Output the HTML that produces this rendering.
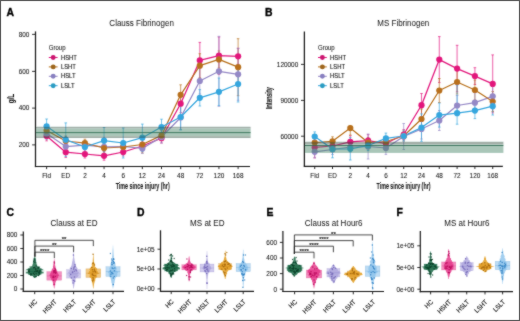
<!DOCTYPE html>
<html><head><meta charset="utf-8"><style>
html,body{margin:0;padding:0;background:#fff;}
body{width:520px;height:321px;overflow:hidden;}
svg{display:block;will-change:transform;}
text{stroke-width:0.12px;}
</style></head><body>
<svg xmlns="http://www.w3.org/2000/svg" width="520" height="321" viewBox="0 0 520 321" font-family="Liberation Sans, sans-serif">
<defs><filter id="bl" filterUnits="userSpaceOnUse" x="0" y="0" width="520" height="321"><feConvolveMatrix order="3" kernelMatrix="1 2 1 2 20 2 1 2 1" divisor="32" edgeMode="none"/></filter></defs>
<rect x="0" y="0" width="520" height="321" fill="#fff"/>
<g filter="url(#bl)">
<line x1="35.50" y1="31.40" x2="35.50" y2="167.10" stroke="#1a1a1a" stroke-width="1.2" />
<line x1="34.90" y1="166.50" x2="250.00" y2="166.50" stroke="#1a1a1a" stroke-width="1.2" />
<line x1="32.10" y1="34.40" x2="35.50" y2="34.40" stroke="#1a1a1a" stroke-width="0.9" />
<text x="0" y="0" font-size="6.92" text-anchor="end" font-weight="normal" fill="#141414" stroke="#141414" transform="translate(29.30,36.70) scale(0.925,1)" style="stroke-width:0.06px">800</text>
<line x1="32.10" y1="71.40" x2="35.50" y2="71.40" stroke="#1a1a1a" stroke-width="0.9" />
<text x="0" y="0" font-size="6.92" text-anchor="end" font-weight="normal" fill="#141414" stroke="#141414" transform="translate(29.30,73.70) scale(0.925,1)" style="stroke-width:0.06px">600</text>
<line x1="32.10" y1="108.10" x2="35.50" y2="108.10" stroke="#1a1a1a" stroke-width="0.9" />
<text x="0" y="0" font-size="6.92" text-anchor="end" font-weight="normal" fill="#141414" stroke="#141414" transform="translate(29.30,110.40) scale(0.925,1)" style="stroke-width:0.06px">400</text>
<line x1="32.10" y1="144.90" x2="35.50" y2="144.90" stroke="#1a1a1a" stroke-width="0.9" />
<text x="0" y="0" font-size="6.92" text-anchor="end" font-weight="normal" fill="#141414" stroke="#141414" transform="translate(29.30,147.20) scale(0.925,1)" style="stroke-width:0.06px">200</text>
<line x1="46.60" y1="166.50" x2="46.60" y2="169.10" stroke="#1a1a1a" stroke-width="0.9" />
<text x="0" y="0" font-size="6.92" text-anchor="middle" font-weight="normal" fill="#141414" stroke="#141414" transform="translate(46.60,177.90) scale(0.925,1)" style="stroke-width:0.06px">Fld</text>
<line x1="65.75" y1="166.50" x2="65.75" y2="169.10" stroke="#1a1a1a" stroke-width="0.9" />
<text x="0" y="0" font-size="6.92" text-anchor="middle" font-weight="normal" fill="#141414" stroke="#141414" transform="translate(65.75,177.90) scale(0.925,1)" style="stroke-width:0.06px">ED</text>
<line x1="84.90" y1="166.50" x2="84.90" y2="169.10" stroke="#1a1a1a" stroke-width="0.9" />
<text x="0" y="0" font-size="6.92" text-anchor="middle" font-weight="normal" fill="#141414" stroke="#141414" transform="translate(84.90,177.90) scale(0.925,1)" style="stroke-width:0.06px">2</text>
<line x1="104.05" y1="166.50" x2="104.05" y2="169.10" stroke="#1a1a1a" stroke-width="0.9" />
<text x="0" y="0" font-size="6.92" text-anchor="middle" font-weight="normal" fill="#141414" stroke="#141414" transform="translate(104.05,177.90) scale(0.925,1)" style="stroke-width:0.06px">4</text>
<line x1="123.20" y1="166.50" x2="123.20" y2="169.10" stroke="#1a1a1a" stroke-width="0.9" />
<text x="0" y="0" font-size="6.92" text-anchor="middle" font-weight="normal" fill="#141414" stroke="#141414" transform="translate(123.20,177.90) scale(0.925,1)" style="stroke-width:0.06px">6</text>
<line x1="142.35" y1="166.50" x2="142.35" y2="169.10" stroke="#1a1a1a" stroke-width="0.9" />
<text x="0" y="0" font-size="6.92" text-anchor="middle" font-weight="normal" fill="#141414" stroke="#141414" transform="translate(142.35,177.90) scale(0.925,1)" style="stroke-width:0.06px">12</text>
<line x1="161.50" y1="166.50" x2="161.50" y2="169.10" stroke="#1a1a1a" stroke-width="0.9" />
<text x="0" y="0" font-size="6.92" text-anchor="middle" font-weight="normal" fill="#141414" stroke="#141414" transform="translate(161.50,177.90) scale(0.925,1)" style="stroke-width:0.06px">24</text>
<line x1="180.65" y1="166.50" x2="180.65" y2="169.10" stroke="#1a1a1a" stroke-width="0.9" />
<text x="0" y="0" font-size="6.92" text-anchor="middle" font-weight="normal" fill="#141414" stroke="#141414" transform="translate(180.65,177.90) scale(0.925,1)" style="stroke-width:0.06px">48</text>
<line x1="199.80" y1="166.50" x2="199.80" y2="169.10" stroke="#1a1a1a" stroke-width="0.9" />
<text x="0" y="0" font-size="6.92" text-anchor="middle" font-weight="normal" fill="#141414" stroke="#141414" transform="translate(199.80,177.90) scale(0.925,1)" style="stroke-width:0.06px">72</text>
<line x1="218.95" y1="166.50" x2="218.95" y2="169.10" stroke="#1a1a1a" stroke-width="0.9" />
<text x="0" y="0" font-size="6.92" text-anchor="middle" font-weight="normal" fill="#141414" stroke="#141414" transform="translate(218.95,177.90) scale(0.925,1)" style="stroke-width:0.06px">120</text>
<line x1="238.10" y1="166.50" x2="238.10" y2="169.10" stroke="#1a1a1a" stroke-width="0.9" />
<text x="0" y="0" font-size="6.92" text-anchor="middle" font-weight="normal" fill="#141414" stroke="#141414" transform="translate(238.10,177.90) scale(0.925,1)" style="stroke-width:0.06px">168</text>
<text x="0" y="0" font-size="8.8" text-anchor="middle" font-weight="bold" fill="#1a1a1a" stroke="#1a1a1a" transform="translate(142.70,189.20) scale(0.61,1)" style="stroke-width:0.1px">Time since injury (hr)</text>
<text x="0" y="0" font-size="8.8" text-anchor="middle" font-weight="bold" fill="#1a1a1a" stroke="#1a1a1a" transform="translate(13.60,98.50) rotate(-90) scale(0.71,1)" style="stroke-width:0.08px">g/L</text>
<text x="0" y="0" font-size="8.65" text-anchor="middle" font-weight="normal" fill="#1e1e1e" stroke="#1e1e1e" transform="translate(141.60,26.00) scale(0.925,1)" style="stroke-width:0.04px">Clauss Fibrinogen</text>
<text x="0" y="0" font-size="10.40" text-anchor="start" font-weight="bold" fill="#000" stroke="#000" transform="translate(6.60,15.70) scale(1,1)" style="stroke-width:0.35px">A</text>
<line x1="46.60" y1="131.20" x2="46.60" y2="140.80" stroke="#E2157C" stroke-width="0.8" stroke-opacity="0.85"/>
<line x1="45.30" y1="131.20" x2="47.90" y2="131.20" stroke="#E2157C" stroke-width="0.8" stroke-opacity="0.85"/>
<line x1="45.30" y1="140.80" x2="47.90" y2="140.80" stroke="#E2157C" stroke-width="0.8" stroke-opacity="0.85"/>
<line x1="65.75" y1="146.90" x2="65.75" y2="157.50" stroke="#E2157C" stroke-width="0.8" stroke-opacity="0.85"/>
<line x1="64.45" y1="146.90" x2="67.05" y2="146.90" stroke="#E2157C" stroke-width="0.8" stroke-opacity="0.85"/>
<line x1="64.45" y1="157.50" x2="67.05" y2="157.50" stroke="#E2157C" stroke-width="0.8" stroke-opacity="0.85"/>
<line x1="84.90" y1="150.00" x2="84.90" y2="158.00" stroke="#E2157C" stroke-width="0.8" stroke-opacity="0.85"/>
<line x1="83.60" y1="150.00" x2="86.20" y2="150.00" stroke="#E2157C" stroke-width="0.8" stroke-opacity="0.85"/>
<line x1="83.60" y1="158.00" x2="86.20" y2="158.00" stroke="#E2157C" stroke-width="0.8" stroke-opacity="0.85"/>
<line x1="104.05" y1="151.40" x2="104.05" y2="160.20" stroke="#E2157C" stroke-width="0.8" stroke-opacity="0.85"/>
<line x1="102.75" y1="151.40" x2="105.35" y2="151.40" stroke="#E2157C" stroke-width="0.8" stroke-opacity="0.85"/>
<line x1="102.75" y1="160.20" x2="105.35" y2="160.20" stroke="#E2157C" stroke-width="0.8" stroke-opacity="0.85"/>
<line x1="123.20" y1="148.00" x2="123.20" y2="156.00" stroke="#E2157C" stroke-width="0.8" stroke-opacity="0.85"/>
<line x1="121.90" y1="148.00" x2="124.50" y2="148.00" stroke="#E2157C" stroke-width="0.8" stroke-opacity="0.85"/>
<line x1="121.90" y1="156.00" x2="124.50" y2="156.00" stroke="#E2157C" stroke-width="0.8" stroke-opacity="0.85"/>
<line x1="142.35" y1="142.00" x2="142.35" y2="150.00" stroke="#E2157C" stroke-width="0.8" stroke-opacity="0.85"/>
<line x1="141.05" y1="142.00" x2="143.65" y2="142.00" stroke="#E2157C" stroke-width="0.8" stroke-opacity="0.85"/>
<line x1="141.05" y1="150.00" x2="143.65" y2="150.00" stroke="#E2157C" stroke-width="0.8" stroke-opacity="0.85"/>
<line x1="161.50" y1="133.40" x2="161.50" y2="143.00" stroke="#E2157C" stroke-width="0.8" stroke-opacity="0.85"/>
<line x1="160.20" y1="133.40" x2="162.80" y2="133.40" stroke="#E2157C" stroke-width="0.8" stroke-opacity="0.85"/>
<line x1="160.20" y1="143.00" x2="162.80" y2="143.00" stroke="#E2157C" stroke-width="0.8" stroke-opacity="0.85"/>
<line x1="180.65" y1="94.70" x2="180.65" y2="112.70" stroke="#E2157C" stroke-width="0.8" stroke-opacity="0.85"/>
<line x1="179.35" y1="94.70" x2="181.95" y2="94.70" stroke="#E2157C" stroke-width="0.8" stroke-opacity="0.85"/>
<line x1="179.35" y1="112.70" x2="181.95" y2="112.70" stroke="#E2157C" stroke-width="0.8" stroke-opacity="0.85"/>
<line x1="199.80" y1="42.40" x2="199.80" y2="78.40" stroke="#E2157C" stroke-width="0.8" stroke-opacity="0.85"/>
<line x1="198.50" y1="42.40" x2="201.10" y2="42.40" stroke="#E2157C" stroke-width="0.8" stroke-opacity="0.85"/>
<line x1="198.50" y1="78.40" x2="201.10" y2="78.40" stroke="#E2157C" stroke-width="0.8" stroke-opacity="0.85"/>
<line x1="218.95" y1="37.00" x2="218.95" y2="74.40" stroke="#E2157C" stroke-width="0.8" stroke-opacity="0.85"/>
<line x1="217.65" y1="37.00" x2="220.25" y2="37.00" stroke="#E2157C" stroke-width="0.8" stroke-opacity="0.85"/>
<line x1="217.65" y1="74.40" x2="220.25" y2="74.40" stroke="#E2157C" stroke-width="0.8" stroke-opacity="0.85"/>
<line x1="238.10" y1="48.30" x2="238.10" y2="64.30" stroke="#E2157C" stroke-width="0.8" stroke-opacity="0.85"/>
<line x1="236.80" y1="48.30" x2="239.40" y2="48.30" stroke="#E2157C" stroke-width="0.8" stroke-opacity="0.85"/>
<line x1="236.80" y1="64.30" x2="239.40" y2="64.30" stroke="#E2157C" stroke-width="0.8" stroke-opacity="0.85"/>
<line x1="46.60" y1="124.50" x2="46.60" y2="136.50" stroke="#B8701C" stroke-width="0.8" stroke-opacity="0.85"/>
<line x1="45.30" y1="124.50" x2="47.90" y2="124.50" stroke="#B8701C" stroke-width="0.8" stroke-opacity="0.85"/>
<line x1="45.30" y1="136.50" x2="47.90" y2="136.50" stroke="#B8701C" stroke-width="0.8" stroke-opacity="0.85"/>
<line x1="65.75" y1="136.00" x2="65.75" y2="146.00" stroke="#B8701C" stroke-width="0.8" stroke-opacity="0.85"/>
<line x1="64.45" y1="136.00" x2="67.05" y2="136.00" stroke="#B8701C" stroke-width="0.8" stroke-opacity="0.85"/>
<line x1="64.45" y1="146.00" x2="67.05" y2="146.00" stroke="#B8701C" stroke-width="0.8" stroke-opacity="0.85"/>
<line x1="84.90" y1="139.20" x2="84.90" y2="147.20" stroke="#B8701C" stroke-width="0.8" stroke-opacity="0.85"/>
<line x1="83.60" y1="139.20" x2="86.20" y2="139.20" stroke="#B8701C" stroke-width="0.8" stroke-opacity="0.85"/>
<line x1="83.60" y1="147.20" x2="86.20" y2="147.20" stroke="#B8701C" stroke-width="0.8" stroke-opacity="0.85"/>
<line x1="104.05" y1="144.00" x2="104.05" y2="152.00" stroke="#B8701C" stroke-width="0.8" stroke-opacity="0.85"/>
<line x1="102.75" y1="144.00" x2="105.35" y2="144.00" stroke="#B8701C" stroke-width="0.8" stroke-opacity="0.85"/>
<line x1="102.75" y1="152.00" x2="105.35" y2="152.00" stroke="#B8701C" stroke-width="0.8" stroke-opacity="0.85"/>
<line x1="123.20" y1="143.00" x2="123.20" y2="151.00" stroke="#B8701C" stroke-width="0.8" stroke-opacity="0.85"/>
<line x1="121.90" y1="143.00" x2="124.50" y2="143.00" stroke="#B8701C" stroke-width="0.8" stroke-opacity="0.85"/>
<line x1="121.90" y1="151.00" x2="124.50" y2="151.00" stroke="#B8701C" stroke-width="0.8" stroke-opacity="0.85"/>
<line x1="142.35" y1="136.10" x2="142.35" y2="152.90" stroke="#B8701C" stroke-width="0.8" stroke-opacity="0.85"/>
<line x1="141.05" y1="136.10" x2="143.65" y2="136.10" stroke="#B8701C" stroke-width="0.8" stroke-opacity="0.85"/>
<line x1="141.05" y1="152.90" x2="143.65" y2="152.90" stroke="#B8701C" stroke-width="0.8" stroke-opacity="0.85"/>
<line x1="161.50" y1="130.40" x2="161.50" y2="140.40" stroke="#B8701C" stroke-width="0.8" stroke-opacity="0.85"/>
<line x1="160.20" y1="130.40" x2="162.80" y2="130.40" stroke="#B8701C" stroke-width="0.8" stroke-opacity="0.85"/>
<line x1="160.20" y1="140.40" x2="162.80" y2="140.40" stroke="#B8701C" stroke-width="0.8" stroke-opacity="0.85"/>
<line x1="180.65" y1="84.80" x2="180.65" y2="104.80" stroke="#B8701C" stroke-width="0.8" stroke-opacity="0.85"/>
<line x1="179.35" y1="84.80" x2="181.95" y2="84.80" stroke="#B8701C" stroke-width="0.8" stroke-opacity="0.85"/>
<line x1="179.35" y1="104.80" x2="181.95" y2="104.80" stroke="#B8701C" stroke-width="0.8" stroke-opacity="0.85"/>
<line x1="199.80" y1="53.70" x2="199.80" y2="77.70" stroke="#B8701C" stroke-width="0.8" stroke-opacity="0.85"/>
<line x1="198.50" y1="53.70" x2="201.10" y2="53.70" stroke="#B8701C" stroke-width="0.8" stroke-opacity="0.85"/>
<line x1="198.50" y1="77.70" x2="201.10" y2="77.70" stroke="#B8701C" stroke-width="0.8" stroke-opacity="0.85"/>
<line x1="218.95" y1="50.90" x2="218.95" y2="67.90" stroke="#B8701C" stroke-width="0.8" stroke-opacity="0.85"/>
<line x1="217.65" y1="50.90" x2="220.25" y2="50.90" stroke="#B8701C" stroke-width="0.8" stroke-opacity="0.85"/>
<line x1="217.65" y1="67.90" x2="220.25" y2="67.90" stroke="#B8701C" stroke-width="0.8" stroke-opacity="0.85"/>
<line x1="238.10" y1="38.70" x2="238.10" y2="95.70" stroke="#B8701C" stroke-width="0.8" stroke-opacity="0.85"/>
<line x1="236.80" y1="38.70" x2="239.40" y2="38.70" stroke="#B8701C" stroke-width="0.8" stroke-opacity="0.85"/>
<line x1="236.80" y1="95.70" x2="239.40" y2="95.70" stroke="#B8701C" stroke-width="0.8" stroke-opacity="0.85"/>
<line x1="46.60" y1="127.50" x2="46.60" y2="139.50" stroke="#9488C6" stroke-width="0.8" stroke-opacity="0.85"/>
<line x1="45.30" y1="127.50" x2="47.90" y2="127.50" stroke="#9488C6" stroke-width="0.8" stroke-opacity="0.85"/>
<line x1="45.30" y1="139.50" x2="47.90" y2="139.50" stroke="#9488C6" stroke-width="0.8" stroke-opacity="0.85"/>
<line x1="65.75" y1="141.60" x2="65.75" y2="151.60" stroke="#9488C6" stroke-width="0.8" stroke-opacity="0.85"/>
<line x1="64.45" y1="141.60" x2="67.05" y2="141.60" stroke="#9488C6" stroke-width="0.8" stroke-opacity="0.85"/>
<line x1="64.45" y1="151.60" x2="67.05" y2="151.60" stroke="#9488C6" stroke-width="0.8" stroke-opacity="0.85"/>
<line x1="84.90" y1="141.20" x2="84.90" y2="149.20" stroke="#9488C6" stroke-width="0.8" stroke-opacity="0.85"/>
<line x1="83.60" y1="141.20" x2="86.20" y2="141.20" stroke="#9488C6" stroke-width="0.8" stroke-opacity="0.85"/>
<line x1="83.60" y1="149.20" x2="86.20" y2="149.20" stroke="#9488C6" stroke-width="0.8" stroke-opacity="0.85"/>
<line x1="104.05" y1="142.80" x2="104.05" y2="150.80" stroke="#9488C6" stroke-width="0.8" stroke-opacity="0.85"/>
<line x1="102.75" y1="142.80" x2="105.35" y2="142.80" stroke="#9488C6" stroke-width="0.8" stroke-opacity="0.85"/>
<line x1="102.75" y1="150.80" x2="105.35" y2="150.80" stroke="#9488C6" stroke-width="0.8" stroke-opacity="0.85"/>
<line x1="123.20" y1="142.50" x2="123.20" y2="150.50" stroke="#9488C6" stroke-width="0.8" stroke-opacity="0.85"/>
<line x1="121.90" y1="142.50" x2="124.50" y2="142.50" stroke="#9488C6" stroke-width="0.8" stroke-opacity="0.85"/>
<line x1="121.90" y1="150.50" x2="124.50" y2="150.50" stroke="#9488C6" stroke-width="0.8" stroke-opacity="0.85"/>
<line x1="142.35" y1="143.40" x2="142.35" y2="153.40" stroke="#9488C6" stroke-width="0.8" stroke-opacity="0.85"/>
<line x1="141.05" y1="143.40" x2="143.65" y2="143.40" stroke="#9488C6" stroke-width="0.8" stroke-opacity="0.85"/>
<line x1="141.05" y1="153.40" x2="143.65" y2="153.40" stroke="#9488C6" stroke-width="0.8" stroke-opacity="0.85"/>
<line x1="161.50" y1="131.00" x2="161.50" y2="143.00" stroke="#9488C6" stroke-width="0.8" stroke-opacity="0.85"/>
<line x1="160.20" y1="131.00" x2="162.80" y2="131.00" stroke="#9488C6" stroke-width="0.8" stroke-opacity="0.85"/>
<line x1="160.20" y1="143.00" x2="162.80" y2="143.00" stroke="#9488C6" stroke-width="0.8" stroke-opacity="0.85"/>
<line x1="180.65" y1="105.50" x2="180.65" y2="129.50" stroke="#9488C6" stroke-width="0.8" stroke-opacity="0.85"/>
<line x1="179.35" y1="105.50" x2="181.95" y2="105.50" stroke="#9488C6" stroke-width="0.8" stroke-opacity="0.85"/>
<line x1="179.35" y1="129.50" x2="181.95" y2="129.50" stroke="#9488C6" stroke-width="0.8" stroke-opacity="0.85"/>
<line x1="199.80" y1="68.00" x2="199.80" y2="94.00" stroke="#9488C6" stroke-width="0.8" stroke-opacity="0.85"/>
<line x1="198.50" y1="68.00" x2="201.10" y2="68.00" stroke="#9488C6" stroke-width="0.8" stroke-opacity="0.85"/>
<line x1="198.50" y1="94.00" x2="201.10" y2="94.00" stroke="#9488C6" stroke-width="0.8" stroke-opacity="0.85"/>
<line x1="218.95" y1="36.30" x2="218.95" y2="106.30" stroke="#9488C6" stroke-width="0.8" stroke-opacity="0.85"/>
<line x1="217.65" y1="36.30" x2="220.25" y2="36.30" stroke="#9488C6" stroke-width="0.8" stroke-opacity="0.85"/>
<line x1="217.65" y1="106.30" x2="220.25" y2="106.30" stroke="#9488C6" stroke-width="0.8" stroke-opacity="0.85"/>
<line x1="238.10" y1="48.30" x2="238.10" y2="100.30" stroke="#9488C6" stroke-width="0.8" stroke-opacity="0.85"/>
<line x1="236.80" y1="48.30" x2="239.40" y2="48.30" stroke="#9488C6" stroke-width="0.8" stroke-opacity="0.85"/>
<line x1="236.80" y1="100.30" x2="239.40" y2="100.30" stroke="#9488C6" stroke-width="0.8" stroke-opacity="0.85"/>
<line x1="46.60" y1="119.00" x2="46.60" y2="133.60" stroke="#35A6DE" stroke-width="0.8" stroke-opacity="0.85"/>
<line x1="45.30" y1="119.00" x2="47.90" y2="119.00" stroke="#35A6DE" stroke-width="0.8" stroke-opacity="0.85"/>
<line x1="45.30" y1="133.60" x2="47.90" y2="133.60" stroke="#35A6DE" stroke-width="0.8" stroke-opacity="0.85"/>
<line x1="65.75" y1="122.90" x2="65.75" y2="156.50" stroke="#35A6DE" stroke-width="0.8" stroke-opacity="0.85"/>
<line x1="64.45" y1="122.90" x2="67.05" y2="122.90" stroke="#35A6DE" stroke-width="0.8" stroke-opacity="0.85"/>
<line x1="64.45" y1="156.50" x2="67.05" y2="156.50" stroke="#35A6DE" stroke-width="0.8" stroke-opacity="0.85"/>
<line x1="84.90" y1="141.00" x2="84.90" y2="153.00" stroke="#35A6DE" stroke-width="0.8" stroke-opacity="0.85"/>
<line x1="83.60" y1="141.00" x2="86.20" y2="141.00" stroke="#35A6DE" stroke-width="0.8" stroke-opacity="0.85"/>
<line x1="83.60" y1="153.00" x2="86.20" y2="153.00" stroke="#35A6DE" stroke-width="0.8" stroke-opacity="0.85"/>
<line x1="104.05" y1="127.50" x2="104.05" y2="153.90" stroke="#35A6DE" stroke-width="0.8" stroke-opacity="0.85"/>
<line x1="102.75" y1="127.50" x2="105.35" y2="127.50" stroke="#35A6DE" stroke-width="0.8" stroke-opacity="0.85"/>
<line x1="102.75" y1="153.90" x2="105.35" y2="153.90" stroke="#35A6DE" stroke-width="0.8" stroke-opacity="0.85"/>
<line x1="123.20" y1="128.00" x2="123.20" y2="158.00" stroke="#35A6DE" stroke-width="0.8" stroke-opacity="0.85"/>
<line x1="121.90" y1="128.00" x2="124.50" y2="128.00" stroke="#35A6DE" stroke-width="0.8" stroke-opacity="0.85"/>
<line x1="121.90" y1="158.00" x2="124.50" y2="158.00" stroke="#35A6DE" stroke-width="0.8" stroke-opacity="0.85"/>
<line x1="142.35" y1="124.10" x2="142.35" y2="151.30" stroke="#35A6DE" stroke-width="0.8" stroke-opacity="0.85"/>
<line x1="141.05" y1="124.10" x2="143.65" y2="124.10" stroke="#35A6DE" stroke-width="0.8" stroke-opacity="0.85"/>
<line x1="141.05" y1="151.30" x2="143.65" y2="151.30" stroke="#35A6DE" stroke-width="0.8" stroke-opacity="0.85"/>
<line x1="161.50" y1="119.20" x2="161.50" y2="134.80" stroke="#35A6DE" stroke-width="0.8" stroke-opacity="0.85"/>
<line x1="160.20" y1="119.20" x2="162.80" y2="119.20" stroke="#35A6DE" stroke-width="0.8" stroke-opacity="0.85"/>
<line x1="160.20" y1="134.80" x2="162.80" y2="134.80" stroke="#35A6DE" stroke-width="0.8" stroke-opacity="0.85"/>
<line x1="180.65" y1="104.00" x2="180.65" y2="130.00" stroke="#35A6DE" stroke-width="0.8" stroke-opacity="0.85"/>
<line x1="179.35" y1="104.00" x2="181.95" y2="104.00" stroke="#35A6DE" stroke-width="0.8" stroke-opacity="0.85"/>
<line x1="179.35" y1="130.00" x2="181.95" y2="130.00" stroke="#35A6DE" stroke-width="0.8" stroke-opacity="0.85"/>
<line x1="199.80" y1="89.60" x2="199.80" y2="106.00" stroke="#35A6DE" stroke-width="0.8" stroke-opacity="0.85"/>
<line x1="198.50" y1="89.60" x2="201.10" y2="89.60" stroke="#35A6DE" stroke-width="0.8" stroke-opacity="0.85"/>
<line x1="198.50" y1="106.00" x2="201.10" y2="106.00" stroke="#35A6DE" stroke-width="0.8" stroke-opacity="0.85"/>
<line x1="218.95" y1="78.00" x2="218.95" y2="105.60" stroke="#35A6DE" stroke-width="0.8" stroke-opacity="0.85"/>
<line x1="217.65" y1="78.00" x2="220.25" y2="78.00" stroke="#35A6DE" stroke-width="0.8" stroke-opacity="0.85"/>
<line x1="217.65" y1="105.60" x2="220.25" y2="105.60" stroke="#35A6DE" stroke-width="0.8" stroke-opacity="0.85"/>
<line x1="238.10" y1="66.00" x2="238.10" y2="102.00" stroke="#35A6DE" stroke-width="0.8" stroke-opacity="0.85"/>
<line x1="236.80" y1="66.00" x2="239.40" y2="66.00" stroke="#35A6DE" stroke-width="0.8" stroke-opacity="0.85"/>
<line x1="236.80" y1="102.00" x2="239.40" y2="102.00" stroke="#35A6DE" stroke-width="0.8" stroke-opacity="0.85"/>
<polyline points="46.60,136.00 65.75,152.20 84.90,154.00 104.05,155.80 123.20,152.00 142.35,146.00 161.50,138.20 180.65,103.70 199.80,60.40 218.95,55.70 238.10,56.30" fill="none" stroke="#E2157C" stroke-width="1.25" stroke-linejoin="round"/>
<polyline points="46.60,133.50 65.75,146.60 84.90,145.20 104.05,146.80 123.20,146.50 142.35,148.40 161.50,137.00 180.65,117.50 199.80,81.00 218.95,71.30 238.10,74.30" fill="none" stroke="#9488C6" stroke-width="1.25" stroke-linejoin="round"/>
<polyline points="46.60,130.50 65.75,141.00 84.90,143.20 104.05,148.00 123.20,147.00 142.35,144.50 161.50,135.40 180.65,94.80 199.80,65.70 218.95,59.40 238.10,67.20" fill="none" stroke="#B8701C" stroke-width="1.25" stroke-linejoin="round"/>
<polyline points="46.60,126.30 65.75,139.70 84.90,147.00 104.05,140.70 123.20,143.00 142.35,137.70 161.50,127.00 180.65,117.00 199.80,97.80 218.95,91.80 238.10,84.00" fill="none" stroke="#35A6DE" stroke-width="1.25" stroke-linejoin="round"/>
<circle cx="46.60" cy="136.00" r="3.1" fill="#E2157C"/>
<circle cx="65.75" cy="152.20" r="3.1" fill="#E2157C"/>
<circle cx="84.90" cy="154.00" r="3.1" fill="#E2157C"/>
<circle cx="104.05" cy="155.80" r="3.1" fill="#E2157C"/>
<circle cx="123.20" cy="152.00" r="3.1" fill="#E2157C"/>
<circle cx="142.35" cy="146.00" r="3.1" fill="#E2157C"/>
<circle cx="161.50" cy="138.20" r="3.1" fill="#E2157C"/>
<circle cx="180.65" cy="103.70" r="3.1" fill="#E2157C"/>
<circle cx="199.80" cy="60.40" r="3.1" fill="#E2157C"/>
<circle cx="218.95" cy="55.70" r="3.1" fill="#E2157C"/>
<circle cx="238.10" cy="56.30" r="3.1" fill="#E2157C"/>
<circle cx="46.60" cy="133.50" r="3.1" fill="#9488C6"/>
<circle cx="65.75" cy="146.60" r="3.1" fill="#9488C6"/>
<circle cx="84.90" cy="145.20" r="3.1" fill="#9488C6"/>
<circle cx="104.05" cy="146.80" r="3.1" fill="#9488C6"/>
<circle cx="123.20" cy="146.50" r="3.1" fill="#9488C6"/>
<circle cx="142.35" cy="148.40" r="3.1" fill="#9488C6"/>
<circle cx="161.50" cy="137.00" r="3.1" fill="#9488C6"/>
<circle cx="180.65" cy="117.50" r="3.1" fill="#9488C6"/>
<circle cx="199.80" cy="81.00" r="3.1" fill="#9488C6"/>
<circle cx="218.95" cy="71.30" r="3.1" fill="#9488C6"/>
<circle cx="238.10" cy="74.30" r="3.1" fill="#9488C6"/>
<circle cx="46.60" cy="130.50" r="3.1" fill="#B8701C"/>
<circle cx="65.75" cy="141.00" r="3.1" fill="#B8701C"/>
<circle cx="84.90" cy="143.20" r="3.1" fill="#B8701C"/>
<circle cx="104.05" cy="148.00" r="3.1" fill="#B8701C"/>
<circle cx="123.20" cy="147.00" r="3.1" fill="#B8701C"/>
<circle cx="142.35" cy="144.50" r="3.1" fill="#B8701C"/>
<circle cx="161.50" cy="135.40" r="3.1" fill="#B8701C"/>
<circle cx="180.65" cy="94.80" r="3.1" fill="#B8701C"/>
<circle cx="199.80" cy="65.70" r="3.1" fill="#B8701C"/>
<circle cx="218.95" cy="59.40" r="3.1" fill="#B8701C"/>
<circle cx="238.10" cy="67.20" r="3.1" fill="#B8701C"/>
<circle cx="46.60" cy="126.30" r="3.1" fill="#35A6DE"/>
<circle cx="65.75" cy="139.70" r="3.1" fill="#35A6DE"/>
<circle cx="84.90" cy="147.00" r="3.1" fill="#35A6DE"/>
<circle cx="104.05" cy="140.70" r="3.1" fill="#35A6DE"/>
<circle cx="123.20" cy="143.00" r="3.1" fill="#35A6DE"/>
<circle cx="142.35" cy="137.70" r="3.1" fill="#35A6DE"/>
<circle cx="161.50" cy="127.00" r="3.1" fill="#35A6DE"/>
<circle cx="180.65" cy="117.00" r="3.1" fill="#35A6DE"/>
<circle cx="199.80" cy="97.80" r="3.1" fill="#35A6DE"/>
<circle cx="218.95" cy="91.80" r="3.1" fill="#35A6DE"/>
<circle cx="238.10" cy="84.00" r="3.1" fill="#35A6DE"/>
<g opacity="0.45">
<rect x="36.10" y="126.80" width="214.50" height="1.80" fill="#2C4A3B"/>
<rect x="36.10" y="128.60" width="214.50" height="7.60" fill="#3F8262"/>
<rect x="36.10" y="136.20" width="214.50" height="1.80" fill="#2C4A3B"/>
</g>
<line x1="36.10" y1="132.60" x2="250.60" y2="132.60" stroke="#25684D" stroke-width="1.0" stroke-opacity="0.8"/>
<text x="0" y="0" font-size="6.49" text-anchor="start" font-weight="normal" fill="#303030" stroke="#303030" transform="translate(48.80,49.90) scale(0.925,1)" >Group</text>
<line x1="48.80" y1="57.50" x2="57.60" y2="57.50" stroke="#E2157C" stroke-width="1.0" />
<circle cx="53.20" cy="57.50" r="2.45" fill="#CC1470"/>
<text x="0" y="0" font-size="6.38" text-anchor="start" font-weight="normal" fill="#1a1a1a" stroke="#1a1a1a" transform="translate(60.90,59.60) scale(0.925,1)" >HSHT</text>
<line x1="48.80" y1="66.90" x2="57.60" y2="66.90" stroke="#B8701C" stroke-width="1.0" />
<circle cx="53.20" cy="66.90" r="2.45" fill="#9E661C"/>
<text x="0" y="0" font-size="6.38" text-anchor="start" font-weight="normal" fill="#1a1a1a" stroke="#1a1a1a" transform="translate(60.90,69.00) scale(0.925,1)" >LSHT</text>
<line x1="48.80" y1="76.30" x2="57.60" y2="76.30" stroke="#9488C6" stroke-width="1.0" />
<circle cx="53.20" cy="76.30" r="2.45" fill="#8880C0"/>
<text x="0" y="0" font-size="6.38" text-anchor="start" font-weight="normal" fill="#1a1a1a" stroke="#1a1a1a" transform="translate(60.90,78.40) scale(0.925,1)" >HSLT</text>
<line x1="48.80" y1="85.70" x2="57.60" y2="85.70" stroke="#35A6DE" stroke-width="1.0" />
<circle cx="53.20" cy="85.70" r="2.45" fill="#2A9CC2"/>
<text x="0" y="0" font-size="6.38" text-anchor="start" font-weight="normal" fill="#1a1a1a" stroke="#1a1a1a" transform="translate(60.90,87.80) scale(0.925,1)" >LSLT</text>
<line x1="304.40" y1="31.40" x2="304.40" y2="167.00" stroke="#1a1a1a" stroke-width="1.2" />
<line x1="303.80" y1="166.40" x2="502.80" y2="166.40" stroke="#1a1a1a" stroke-width="1.2" />
<line x1="301.00" y1="64.40" x2="304.40" y2="64.40" stroke="#1a1a1a" stroke-width="0.9" />
<text x="0" y="0" font-size="6.92" text-anchor="end" font-weight="normal" fill="#141414" stroke="#141414" transform="translate(298.20,66.70) scale(0.925,1)" style="stroke-width:0.06px">120000</text>
<line x1="301.00" y1="100.40" x2="304.40" y2="100.40" stroke="#1a1a1a" stroke-width="0.9" />
<text x="0" y="0" font-size="6.92" text-anchor="end" font-weight="normal" fill="#141414" stroke="#141414" transform="translate(298.20,102.70) scale(0.925,1)" style="stroke-width:0.06px">90000</text>
<line x1="301.00" y1="136.20" x2="304.40" y2="136.20" stroke="#1a1a1a" stroke-width="0.9" />
<text x="0" y="0" font-size="6.92" text-anchor="end" font-weight="normal" fill="#141414" stroke="#141414" transform="translate(298.20,138.50) scale(0.925,1)" style="stroke-width:0.06px">60000</text>
<line x1="314.70" y1="166.40" x2="314.70" y2="169.00" stroke="#1a1a1a" stroke-width="0.9" />
<text x="0" y="0" font-size="6.92" text-anchor="middle" font-weight="normal" fill="#141414" stroke="#141414" transform="translate(314.70,177.80) scale(0.925,1)" style="stroke-width:0.06px">Fld</text>
<line x1="332.50" y1="166.40" x2="332.50" y2="169.00" stroke="#1a1a1a" stroke-width="0.9" />
<text x="0" y="0" font-size="6.92" text-anchor="middle" font-weight="normal" fill="#141414" stroke="#141414" transform="translate(332.50,177.80) scale(0.925,1)" style="stroke-width:0.06px">ED</text>
<line x1="350.30" y1="166.40" x2="350.30" y2="169.00" stroke="#1a1a1a" stroke-width="0.9" />
<text x="0" y="0" font-size="6.92" text-anchor="middle" font-weight="normal" fill="#141414" stroke="#141414" transform="translate(350.30,177.80) scale(0.925,1)" style="stroke-width:0.06px">2</text>
<line x1="368.10" y1="166.40" x2="368.10" y2="169.00" stroke="#1a1a1a" stroke-width="0.9" />
<text x="0" y="0" font-size="6.92" text-anchor="middle" font-weight="normal" fill="#141414" stroke="#141414" transform="translate(368.10,177.80) scale(0.925,1)" style="stroke-width:0.06px">4</text>
<line x1="385.90" y1="166.40" x2="385.90" y2="169.00" stroke="#1a1a1a" stroke-width="0.9" />
<text x="0" y="0" font-size="6.92" text-anchor="middle" font-weight="normal" fill="#141414" stroke="#141414" transform="translate(385.90,177.80) scale(0.925,1)" style="stroke-width:0.06px">6</text>
<line x1="403.70" y1="166.40" x2="403.70" y2="169.00" stroke="#1a1a1a" stroke-width="0.9" />
<text x="0" y="0" font-size="6.92" text-anchor="middle" font-weight="normal" fill="#141414" stroke="#141414" transform="translate(403.70,177.80) scale(0.925,1)" style="stroke-width:0.06px">12</text>
<line x1="421.50" y1="166.40" x2="421.50" y2="169.00" stroke="#1a1a1a" stroke-width="0.9" />
<text x="0" y="0" font-size="6.92" text-anchor="middle" font-weight="normal" fill="#141414" stroke="#141414" transform="translate(421.50,177.80) scale(0.925,1)" style="stroke-width:0.06px">24</text>
<line x1="439.30" y1="166.40" x2="439.30" y2="169.00" stroke="#1a1a1a" stroke-width="0.9" />
<text x="0" y="0" font-size="6.92" text-anchor="middle" font-weight="normal" fill="#141414" stroke="#141414" transform="translate(439.30,177.80) scale(0.925,1)" style="stroke-width:0.06px">48</text>
<line x1="457.10" y1="166.40" x2="457.10" y2="169.00" stroke="#1a1a1a" stroke-width="0.9" />
<text x="0" y="0" font-size="6.92" text-anchor="middle" font-weight="normal" fill="#141414" stroke="#141414" transform="translate(457.10,177.80) scale(0.925,1)" style="stroke-width:0.06px">72</text>
<line x1="474.90" y1="166.40" x2="474.90" y2="169.00" stroke="#1a1a1a" stroke-width="0.9" />
<text x="0" y="0" font-size="6.92" text-anchor="middle" font-weight="normal" fill="#141414" stroke="#141414" transform="translate(474.90,177.80) scale(0.925,1)" style="stroke-width:0.06px">120</text>
<line x1="492.70" y1="166.40" x2="492.70" y2="169.00" stroke="#1a1a1a" stroke-width="0.9" />
<text x="0" y="0" font-size="6.92" text-anchor="middle" font-weight="normal" fill="#141414" stroke="#141414" transform="translate(492.70,177.80) scale(0.925,1)" style="stroke-width:0.06px">168</text>
<text x="0" y="0" font-size="8.8" text-anchor="middle" font-weight="bold" fill="#1a1a1a" stroke="#1a1a1a" transform="translate(403.50,189.10) scale(0.61,1)" style="stroke-width:0.1px">Time since injury (hr)</text>
<text x="0" y="0" font-size="8.8" text-anchor="middle" font-weight="bold" fill="#1a1a1a" stroke="#1a1a1a" transform="translate(271.60,98.20) rotate(-90) scale(0.598,1)" style="stroke-width:0.08px">Intensity</text>
<text x="0" y="0" font-size="8.65" text-anchor="middle" font-weight="normal" fill="#1e1e1e" stroke="#1e1e1e" transform="translate(403.30,26.00) scale(0.925,1)" style="stroke-width:0.04px">MS Fibrinogen</text>
<text x="0" y="0" font-size="10.40" text-anchor="start" font-weight="bold" fill="#000" stroke="#000" transform="translate(265.00,15.70) scale(1,1)" style="stroke-width:0.35px">B</text>
<line x1="314.70" y1="136.90" x2="314.70" y2="157.90" stroke="#E2157C" stroke-width="0.8" stroke-opacity="0.85"/>
<line x1="313.40" y1="136.90" x2="316.00" y2="136.90" stroke="#E2157C" stroke-width="0.8" stroke-opacity="0.85"/>
<line x1="313.40" y1="157.90" x2="316.00" y2="157.90" stroke="#E2157C" stroke-width="0.8" stroke-opacity="0.85"/>
<line x1="332.50" y1="141.00" x2="332.50" y2="151.00" stroke="#E2157C" stroke-width="0.8" stroke-opacity="0.85"/>
<line x1="331.20" y1="141.00" x2="333.80" y2="141.00" stroke="#E2157C" stroke-width="0.8" stroke-opacity="0.85"/>
<line x1="331.20" y1="151.00" x2="333.80" y2="151.00" stroke="#E2157C" stroke-width="0.8" stroke-opacity="0.85"/>
<line x1="350.30" y1="135.80" x2="350.30" y2="147.80" stroke="#E2157C" stroke-width="0.8" stroke-opacity="0.85"/>
<line x1="349.00" y1="135.80" x2="351.60" y2="135.80" stroke="#E2157C" stroke-width="0.8" stroke-opacity="0.85"/>
<line x1="349.00" y1="147.80" x2="351.60" y2="147.80" stroke="#E2157C" stroke-width="0.8" stroke-opacity="0.85"/>
<line x1="368.10" y1="134.60" x2="368.10" y2="146.60" stroke="#E2157C" stroke-width="0.8" stroke-opacity="0.85"/>
<line x1="366.80" y1="134.60" x2="369.40" y2="134.60" stroke="#E2157C" stroke-width="0.8" stroke-opacity="0.85"/>
<line x1="366.80" y1="146.60" x2="369.40" y2="146.60" stroke="#E2157C" stroke-width="0.8" stroke-opacity="0.85"/>
<line x1="385.90" y1="138.50" x2="385.90" y2="148.50" stroke="#E2157C" stroke-width="0.8" stroke-opacity="0.85"/>
<line x1="384.60" y1="138.50" x2="387.20" y2="138.50" stroke="#E2157C" stroke-width="0.8" stroke-opacity="0.85"/>
<line x1="384.60" y1="148.50" x2="387.20" y2="148.50" stroke="#E2157C" stroke-width="0.8" stroke-opacity="0.85"/>
<line x1="403.70" y1="129.50" x2="403.70" y2="139.50" stroke="#E2157C" stroke-width="0.8" stroke-opacity="0.85"/>
<line x1="402.40" y1="129.50" x2="405.00" y2="129.50" stroke="#E2157C" stroke-width="0.8" stroke-opacity="0.85"/>
<line x1="402.40" y1="139.50" x2="405.00" y2="139.50" stroke="#E2157C" stroke-width="0.8" stroke-opacity="0.85"/>
<line x1="421.50" y1="93.50" x2="421.50" y2="116.90" stroke="#E2157C" stroke-width="0.8" stroke-opacity="0.85"/>
<line x1="420.20" y1="93.50" x2="422.80" y2="93.50" stroke="#E2157C" stroke-width="0.8" stroke-opacity="0.85"/>
<line x1="420.20" y1="116.90" x2="422.80" y2="116.90" stroke="#E2157C" stroke-width="0.8" stroke-opacity="0.85"/>
<line x1="439.30" y1="36.60" x2="439.30" y2="82.60" stroke="#E2157C" stroke-width="0.8" stroke-opacity="0.85"/>
<line x1="438.00" y1="36.60" x2="440.60" y2="36.60" stroke="#E2157C" stroke-width="0.8" stroke-opacity="0.85"/>
<line x1="438.00" y1="82.60" x2="440.60" y2="82.60" stroke="#E2157C" stroke-width="0.8" stroke-opacity="0.85"/>
<line x1="457.10" y1="45.30" x2="457.10" y2="91.90" stroke="#E2157C" stroke-width="0.8" stroke-opacity="0.85"/>
<line x1="455.80" y1="45.30" x2="458.40" y2="45.30" stroke="#E2157C" stroke-width="0.8" stroke-opacity="0.85"/>
<line x1="455.80" y1="91.90" x2="458.40" y2="91.90" stroke="#E2157C" stroke-width="0.8" stroke-opacity="0.85"/>
<line x1="474.90" y1="67.70" x2="474.90" y2="84.50" stroke="#E2157C" stroke-width="0.8" stroke-opacity="0.85"/>
<line x1="473.60" y1="67.70" x2="476.20" y2="67.70" stroke="#E2157C" stroke-width="0.8" stroke-opacity="0.85"/>
<line x1="473.60" y1="84.50" x2="476.20" y2="84.50" stroke="#E2157C" stroke-width="0.8" stroke-opacity="0.85"/>
<line x1="492.70" y1="54.90" x2="492.70" y2="112.90" stroke="#E2157C" stroke-width="0.8" stroke-opacity="0.85"/>
<line x1="491.40" y1="54.90" x2="494.00" y2="54.90" stroke="#E2157C" stroke-width="0.8" stroke-opacity="0.85"/>
<line x1="491.40" y1="112.90" x2="494.00" y2="112.90" stroke="#E2157C" stroke-width="0.8" stroke-opacity="0.85"/>
<line x1="314.70" y1="136.50" x2="314.70" y2="148.50" stroke="#B8701C" stroke-width="0.8" stroke-opacity="0.85"/>
<line x1="313.40" y1="136.50" x2="316.00" y2="136.50" stroke="#B8701C" stroke-width="0.8" stroke-opacity="0.85"/>
<line x1="313.40" y1="148.50" x2="316.00" y2="148.50" stroke="#B8701C" stroke-width="0.8" stroke-opacity="0.85"/>
<line x1="332.50" y1="136.80" x2="332.50" y2="145.80" stroke="#B8701C" stroke-width="0.8" stroke-opacity="0.85"/>
<line x1="331.20" y1="136.80" x2="333.80" y2="136.80" stroke="#B8701C" stroke-width="0.8" stroke-opacity="0.85"/>
<line x1="331.20" y1="145.80" x2="333.80" y2="145.80" stroke="#B8701C" stroke-width="0.8" stroke-opacity="0.85"/>
<line x1="350.30" y1="126.10" x2="350.30" y2="135.10" stroke="#B8701C" stroke-width="0.8" stroke-opacity="0.85"/>
<line x1="349.00" y1="126.10" x2="351.60" y2="126.10" stroke="#B8701C" stroke-width="0.8" stroke-opacity="0.85"/>
<line x1="349.00" y1="135.10" x2="351.60" y2="135.10" stroke="#B8701C" stroke-width="0.8" stroke-opacity="0.85"/>
<line x1="368.10" y1="137.50" x2="368.10" y2="147.50" stroke="#B8701C" stroke-width="0.8" stroke-opacity="0.85"/>
<line x1="366.80" y1="137.50" x2="369.40" y2="137.50" stroke="#B8701C" stroke-width="0.8" stroke-opacity="0.85"/>
<line x1="366.80" y1="147.50" x2="369.40" y2="147.50" stroke="#B8701C" stroke-width="0.8" stroke-opacity="0.85"/>
<line x1="385.90" y1="136.50" x2="385.90" y2="146.50" stroke="#B8701C" stroke-width="0.8" stroke-opacity="0.85"/>
<line x1="384.60" y1="136.50" x2="387.20" y2="136.50" stroke="#B8701C" stroke-width="0.8" stroke-opacity="0.85"/>
<line x1="384.60" y1="146.50" x2="387.20" y2="146.50" stroke="#B8701C" stroke-width="0.8" stroke-opacity="0.85"/>
<line x1="403.70" y1="131.00" x2="403.70" y2="141.00" stroke="#B8701C" stroke-width="0.8" stroke-opacity="0.85"/>
<line x1="402.40" y1="131.00" x2="405.00" y2="131.00" stroke="#B8701C" stroke-width="0.8" stroke-opacity="0.85"/>
<line x1="402.40" y1="141.00" x2="405.00" y2="141.00" stroke="#B8701C" stroke-width="0.8" stroke-opacity="0.85"/>
<line x1="421.50" y1="109.00" x2="421.50" y2="129.00" stroke="#B8701C" stroke-width="0.8" stroke-opacity="0.85"/>
<line x1="420.20" y1="109.00" x2="422.80" y2="109.00" stroke="#B8701C" stroke-width="0.8" stroke-opacity="0.85"/>
<line x1="420.20" y1="129.00" x2="422.80" y2="129.00" stroke="#B8701C" stroke-width="0.8" stroke-opacity="0.85"/>
<line x1="439.30" y1="78.50" x2="439.30" y2="102.50" stroke="#B8701C" stroke-width="0.8" stroke-opacity="0.85"/>
<line x1="438.00" y1="78.50" x2="440.60" y2="78.50" stroke="#B8701C" stroke-width="0.8" stroke-opacity="0.85"/>
<line x1="438.00" y1="102.50" x2="440.60" y2="102.50" stroke="#B8701C" stroke-width="0.8" stroke-opacity="0.85"/>
<line x1="457.10" y1="70.00" x2="457.10" y2="94.00" stroke="#B8701C" stroke-width="0.8" stroke-opacity="0.85"/>
<line x1="455.80" y1="70.00" x2="458.40" y2="70.00" stroke="#B8701C" stroke-width="0.8" stroke-opacity="0.85"/>
<line x1="455.80" y1="94.00" x2="458.40" y2="94.00" stroke="#B8701C" stroke-width="0.8" stroke-opacity="0.85"/>
<line x1="474.90" y1="80.00" x2="474.90" y2="100.00" stroke="#B8701C" stroke-width="0.8" stroke-opacity="0.85"/>
<line x1="473.60" y1="80.00" x2="476.20" y2="80.00" stroke="#B8701C" stroke-width="0.8" stroke-opacity="0.85"/>
<line x1="473.60" y1="100.00" x2="476.20" y2="100.00" stroke="#B8701C" stroke-width="0.8" stroke-opacity="0.85"/>
<line x1="492.70" y1="91.50" x2="492.70" y2="111.50" stroke="#B8701C" stroke-width="0.8" stroke-opacity="0.85"/>
<line x1="491.40" y1="91.50" x2="494.00" y2="91.50" stroke="#B8701C" stroke-width="0.8" stroke-opacity="0.85"/>
<line x1="491.40" y1="111.50" x2="494.00" y2="111.50" stroke="#B8701C" stroke-width="0.8" stroke-opacity="0.85"/>
<line x1="314.70" y1="145.80" x2="314.70" y2="157.80" stroke="#9488C6" stroke-width="0.8" stroke-opacity="0.85"/>
<line x1="313.40" y1="145.80" x2="316.00" y2="145.80" stroke="#9488C6" stroke-width="0.8" stroke-opacity="0.85"/>
<line x1="313.40" y1="157.80" x2="316.00" y2="157.80" stroke="#9488C6" stroke-width="0.8" stroke-opacity="0.85"/>
<line x1="332.50" y1="144.50" x2="332.50" y2="154.50" stroke="#9488C6" stroke-width="0.8" stroke-opacity="0.85"/>
<line x1="331.20" y1="144.50" x2="333.80" y2="144.50" stroke="#9488C6" stroke-width="0.8" stroke-opacity="0.85"/>
<line x1="331.20" y1="154.50" x2="333.80" y2="154.50" stroke="#9488C6" stroke-width="0.8" stroke-opacity="0.85"/>
<line x1="350.30" y1="142.00" x2="350.30" y2="152.00" stroke="#9488C6" stroke-width="0.8" stroke-opacity="0.85"/>
<line x1="349.00" y1="142.00" x2="351.60" y2="142.00" stroke="#9488C6" stroke-width="0.8" stroke-opacity="0.85"/>
<line x1="349.00" y1="152.00" x2="351.60" y2="152.00" stroke="#9488C6" stroke-width="0.8" stroke-opacity="0.85"/>
<line x1="368.10" y1="134.00" x2="368.10" y2="159.00" stroke="#9488C6" stroke-width="0.8" stroke-opacity="0.85"/>
<line x1="366.80" y1="134.00" x2="369.40" y2="134.00" stroke="#9488C6" stroke-width="0.8" stroke-opacity="0.85"/>
<line x1="366.80" y1="159.00" x2="369.40" y2="159.00" stroke="#9488C6" stroke-width="0.8" stroke-opacity="0.85"/>
<line x1="385.90" y1="141.60" x2="385.90" y2="154.40" stroke="#9488C6" stroke-width="0.8" stroke-opacity="0.85"/>
<line x1="384.60" y1="141.60" x2="387.20" y2="141.60" stroke="#9488C6" stroke-width="0.8" stroke-opacity="0.85"/>
<line x1="384.60" y1="154.40" x2="387.20" y2="154.40" stroke="#9488C6" stroke-width="0.8" stroke-opacity="0.85"/>
<line x1="403.70" y1="123.50" x2="403.70" y2="149.50" stroke="#9488C6" stroke-width="0.8" stroke-opacity="0.85"/>
<line x1="402.40" y1="123.50" x2="405.00" y2="123.50" stroke="#9488C6" stroke-width="0.8" stroke-opacity="0.85"/>
<line x1="402.40" y1="149.50" x2="405.00" y2="149.50" stroke="#9488C6" stroke-width="0.8" stroke-opacity="0.85"/>
<line x1="421.50" y1="119.00" x2="421.50" y2="139.00" stroke="#9488C6" stroke-width="0.8" stroke-opacity="0.85"/>
<line x1="420.20" y1="119.00" x2="422.80" y2="119.00" stroke="#9488C6" stroke-width="0.8" stroke-opacity="0.85"/>
<line x1="420.20" y1="139.00" x2="422.80" y2="139.00" stroke="#9488C6" stroke-width="0.8" stroke-opacity="0.85"/>
<line x1="439.30" y1="110.50" x2="439.30" y2="130.50" stroke="#9488C6" stroke-width="0.8" stroke-opacity="0.85"/>
<line x1="438.00" y1="110.50" x2="440.60" y2="110.50" stroke="#9488C6" stroke-width="0.8" stroke-opacity="0.85"/>
<line x1="438.00" y1="130.50" x2="440.60" y2="130.50" stroke="#9488C6" stroke-width="0.8" stroke-opacity="0.85"/>
<line x1="457.10" y1="95.50" x2="457.10" y2="115.50" stroke="#9488C6" stroke-width="0.8" stroke-opacity="0.85"/>
<line x1="455.80" y1="95.50" x2="458.40" y2="95.50" stroke="#9488C6" stroke-width="0.8" stroke-opacity="0.85"/>
<line x1="455.80" y1="115.50" x2="458.40" y2="115.50" stroke="#9488C6" stroke-width="0.8" stroke-opacity="0.85"/>
<line x1="474.90" y1="92.70" x2="474.90" y2="112.70" stroke="#9488C6" stroke-width="0.8" stroke-opacity="0.85"/>
<line x1="473.60" y1="92.70" x2="476.20" y2="92.70" stroke="#9488C6" stroke-width="0.8" stroke-opacity="0.85"/>
<line x1="473.60" y1="112.70" x2="476.20" y2="112.70" stroke="#9488C6" stroke-width="0.8" stroke-opacity="0.85"/>
<line x1="492.70" y1="84.30" x2="492.70" y2="108.30" stroke="#9488C6" stroke-width="0.8" stroke-opacity="0.85"/>
<line x1="491.40" y1="84.30" x2="494.00" y2="84.30" stroke="#9488C6" stroke-width="0.8" stroke-opacity="0.85"/>
<line x1="491.40" y1="108.30" x2="494.00" y2="108.30" stroke="#9488C6" stroke-width="0.8" stroke-opacity="0.85"/>
<line x1="314.70" y1="131.90" x2="314.70" y2="141.10" stroke="#35A6DE" stroke-width="0.8" stroke-opacity="0.85"/>
<line x1="313.40" y1="131.90" x2="316.00" y2="131.90" stroke="#35A6DE" stroke-width="0.8" stroke-opacity="0.85"/>
<line x1="313.40" y1="141.10" x2="316.00" y2="141.10" stroke="#35A6DE" stroke-width="0.8" stroke-opacity="0.85"/>
<line x1="332.50" y1="140.20" x2="332.50" y2="157.80" stroke="#35A6DE" stroke-width="0.8" stroke-opacity="0.85"/>
<line x1="331.20" y1="140.20" x2="333.80" y2="140.20" stroke="#35A6DE" stroke-width="0.8" stroke-opacity="0.85"/>
<line x1="331.20" y1="157.80" x2="333.80" y2="157.80" stroke="#35A6DE" stroke-width="0.8" stroke-opacity="0.85"/>
<line x1="350.30" y1="137.60" x2="350.30" y2="160.00" stroke="#35A6DE" stroke-width="0.8" stroke-opacity="0.85"/>
<line x1="349.00" y1="137.60" x2="351.60" y2="137.60" stroke="#35A6DE" stroke-width="0.8" stroke-opacity="0.85"/>
<line x1="349.00" y1="160.00" x2="351.60" y2="160.00" stroke="#35A6DE" stroke-width="0.8" stroke-opacity="0.85"/>
<line x1="368.10" y1="140.50" x2="368.10" y2="150.50" stroke="#35A6DE" stroke-width="0.8" stroke-opacity="0.85"/>
<line x1="366.80" y1="140.50" x2="369.40" y2="140.50" stroke="#35A6DE" stroke-width="0.8" stroke-opacity="0.85"/>
<line x1="366.80" y1="150.50" x2="369.40" y2="150.50" stroke="#35A6DE" stroke-width="0.8" stroke-opacity="0.85"/>
<line x1="385.90" y1="133.10" x2="385.90" y2="143.70" stroke="#35A6DE" stroke-width="0.8" stroke-opacity="0.85"/>
<line x1="384.60" y1="133.10" x2="387.20" y2="133.10" stroke="#35A6DE" stroke-width="0.8" stroke-opacity="0.85"/>
<line x1="384.60" y1="143.70" x2="387.20" y2="143.70" stroke="#35A6DE" stroke-width="0.8" stroke-opacity="0.85"/>
<line x1="403.70" y1="131.00" x2="403.70" y2="141.00" stroke="#35A6DE" stroke-width="0.8" stroke-opacity="0.85"/>
<line x1="402.40" y1="131.00" x2="405.00" y2="131.00" stroke="#35A6DE" stroke-width="0.8" stroke-opacity="0.85"/>
<line x1="402.40" y1="141.00" x2="405.00" y2="141.00" stroke="#35A6DE" stroke-width="0.8" stroke-opacity="0.85"/>
<line x1="421.50" y1="113.90" x2="421.50" y2="141.30" stroke="#35A6DE" stroke-width="0.8" stroke-opacity="0.85"/>
<line x1="420.20" y1="113.90" x2="422.80" y2="113.90" stroke="#35A6DE" stroke-width="0.8" stroke-opacity="0.85"/>
<line x1="420.20" y1="141.30" x2="422.80" y2="141.30" stroke="#35A6DE" stroke-width="0.8" stroke-opacity="0.85"/>
<line x1="439.30" y1="103.10" x2="439.30" y2="127.10" stroke="#35A6DE" stroke-width="0.8" stroke-opacity="0.85"/>
<line x1="438.00" y1="103.10" x2="440.60" y2="103.10" stroke="#35A6DE" stroke-width="0.8" stroke-opacity="0.85"/>
<line x1="438.00" y1="127.10" x2="440.60" y2="127.10" stroke="#35A6DE" stroke-width="0.8" stroke-opacity="0.85"/>
<line x1="457.10" y1="85.20" x2="457.10" y2="124.20" stroke="#35A6DE" stroke-width="0.8" stroke-opacity="0.85"/>
<line x1="455.80" y1="85.20" x2="458.40" y2="85.20" stroke="#35A6DE" stroke-width="0.8" stroke-opacity="0.85"/>
<line x1="455.80" y1="124.20" x2="458.40" y2="124.20" stroke="#35A6DE" stroke-width="0.8" stroke-opacity="0.85"/>
<line x1="474.90" y1="102.60" x2="474.90" y2="118.60" stroke="#35A6DE" stroke-width="0.8" stroke-opacity="0.85"/>
<line x1="473.60" y1="102.60" x2="476.20" y2="102.60" stroke="#35A6DE" stroke-width="0.8" stroke-opacity="0.85"/>
<line x1="473.60" y1="118.60" x2="476.20" y2="118.60" stroke="#35A6DE" stroke-width="0.8" stroke-opacity="0.85"/>
<line x1="492.70" y1="97.40" x2="492.70" y2="115.00" stroke="#35A6DE" stroke-width="0.8" stroke-opacity="0.85"/>
<line x1="491.40" y1="97.40" x2="494.00" y2="97.40" stroke="#35A6DE" stroke-width="0.8" stroke-opacity="0.85"/>
<line x1="491.40" y1="115.00" x2="494.00" y2="115.00" stroke="#35A6DE" stroke-width="0.8" stroke-opacity="0.85"/>
<polyline points="314.70,147.40 332.50,146.00 350.30,141.80 368.10,140.60 385.90,143.50 403.70,134.50 421.50,105.20 439.30,59.60 457.10,68.60 474.90,76.10 492.70,83.90" fill="none" stroke="#E2157C" stroke-width="1.25" stroke-linejoin="round"/>
<polyline points="314.70,151.80 332.50,149.50 350.30,147.00 368.10,146.50 385.90,148.00 403.70,136.50 421.50,129.00 439.30,120.50 457.10,105.50 474.90,102.70 492.70,96.30" fill="none" stroke="#9488C6" stroke-width="1.25" stroke-linejoin="round"/>
<polyline points="314.70,142.50 332.50,141.30 350.30,128.10 368.10,142.50 385.90,141.50 403.70,136.00 421.50,119.00 439.30,90.50 457.10,82.00 474.90,90.00 492.70,101.50" fill="none" stroke="#B8701C" stroke-width="1.25" stroke-linejoin="round"/>
<polyline points="314.70,136.50 332.50,149.00 350.30,148.80 368.10,145.50 385.90,138.40 403.70,136.00 421.50,127.60 439.30,115.10 457.10,113.20 474.90,110.60 492.70,106.20" fill="none" stroke="#35A6DE" stroke-width="1.25" stroke-linejoin="round"/>
<circle cx="314.70" cy="147.40" r="3.1" fill="#E2157C"/>
<circle cx="332.50" cy="146.00" r="3.1" fill="#E2157C"/>
<circle cx="350.30" cy="141.80" r="3.1" fill="#E2157C"/>
<circle cx="368.10" cy="140.60" r="3.1" fill="#E2157C"/>
<circle cx="385.90" cy="143.50" r="3.1" fill="#E2157C"/>
<circle cx="403.70" cy="134.50" r="3.1" fill="#E2157C"/>
<circle cx="421.50" cy="105.20" r="3.1" fill="#E2157C"/>
<circle cx="439.30" cy="59.60" r="3.1" fill="#E2157C"/>
<circle cx="457.10" cy="68.60" r="3.1" fill="#E2157C"/>
<circle cx="474.90" cy="76.10" r="3.1" fill="#E2157C"/>
<circle cx="492.70" cy="83.90" r="3.1" fill="#E2157C"/>
<circle cx="314.70" cy="151.80" r="3.1" fill="#9488C6"/>
<circle cx="332.50" cy="149.50" r="3.1" fill="#9488C6"/>
<circle cx="350.30" cy="147.00" r="3.1" fill="#9488C6"/>
<circle cx="368.10" cy="146.50" r="3.1" fill="#9488C6"/>
<circle cx="385.90" cy="148.00" r="3.1" fill="#9488C6"/>
<circle cx="403.70" cy="136.50" r="3.1" fill="#9488C6"/>
<circle cx="421.50" cy="129.00" r="3.1" fill="#9488C6"/>
<circle cx="439.30" cy="120.50" r="3.1" fill="#9488C6"/>
<circle cx="457.10" cy="105.50" r="3.1" fill="#9488C6"/>
<circle cx="474.90" cy="102.70" r="3.1" fill="#9488C6"/>
<circle cx="492.70" cy="96.30" r="3.1" fill="#9488C6"/>
<circle cx="314.70" cy="142.50" r="3.1" fill="#B8701C"/>
<circle cx="332.50" cy="141.30" r="3.1" fill="#B8701C"/>
<circle cx="350.30" cy="128.10" r="3.1" fill="#B8701C"/>
<circle cx="368.10" cy="142.50" r="3.1" fill="#B8701C"/>
<circle cx="385.90" cy="141.50" r="3.1" fill="#B8701C"/>
<circle cx="403.70" cy="136.00" r="3.1" fill="#B8701C"/>
<circle cx="421.50" cy="119.00" r="3.1" fill="#B8701C"/>
<circle cx="439.30" cy="90.50" r="3.1" fill="#B8701C"/>
<circle cx="457.10" cy="82.00" r="3.1" fill="#B8701C"/>
<circle cx="474.90" cy="90.00" r="3.1" fill="#B8701C"/>
<circle cx="492.70" cy="101.50" r="3.1" fill="#B8701C"/>
<circle cx="314.70" cy="136.50" r="3.1" fill="#35A6DE"/>
<circle cx="332.50" cy="149.00" r="3.1" fill="#35A6DE"/>
<circle cx="350.30" cy="148.80" r="3.1" fill="#35A6DE"/>
<circle cx="368.10" cy="145.50" r="3.1" fill="#35A6DE"/>
<circle cx="385.90" cy="138.40" r="3.1" fill="#35A6DE"/>
<circle cx="403.70" cy="136.00" r="3.1" fill="#35A6DE"/>
<circle cx="421.50" cy="127.60" r="3.1" fill="#35A6DE"/>
<circle cx="439.30" cy="115.10" r="3.1" fill="#35A6DE"/>
<circle cx="457.10" cy="113.20" r="3.1" fill="#35A6DE"/>
<circle cx="474.90" cy="110.60" r="3.1" fill="#35A6DE"/>
<circle cx="492.70" cy="106.20" r="3.1" fill="#35A6DE"/>
<g opacity="0.45">
<rect x="305.00" y="141.80" width="198.40" height="2.80" fill="#2C4A3B"/>
<rect x="305.00" y="144.60" width="198.40" height="8.30" fill="#3F8262"/>
</g>
<line x1="305.00" y1="145.50" x2="503.40" y2="145.50" stroke="#25684D" stroke-width="1.0" stroke-opacity="0.8"/>
<text x="0" y="0" font-size="6.49" text-anchor="start" font-weight="normal" fill="#303030" stroke="#303030" transform="translate(318.00,49.90) scale(0.925,1)" >Group</text>
<line x1="318.00" y1="57.50" x2="326.80" y2="57.50" stroke="#E2157C" stroke-width="1.0" />
<circle cx="322.40" cy="57.50" r="2.45" fill="#CC1470"/>
<text x="0" y="0" font-size="6.38" text-anchor="start" font-weight="normal" fill="#1a1a1a" stroke="#1a1a1a" transform="translate(330.10,59.60) scale(0.925,1)" >HSHT</text>
<line x1="318.00" y1="66.90" x2="326.80" y2="66.90" stroke="#B8701C" stroke-width="1.0" />
<circle cx="322.40" cy="66.90" r="2.45" fill="#9E661C"/>
<text x="0" y="0" font-size="6.38" text-anchor="start" font-weight="normal" fill="#1a1a1a" stroke="#1a1a1a" transform="translate(330.10,69.00) scale(0.925,1)" >LSHT</text>
<line x1="318.00" y1="76.30" x2="326.80" y2="76.30" stroke="#9488C6" stroke-width="1.0" />
<circle cx="322.40" cy="76.30" r="2.45" fill="#8880C0"/>
<text x="0" y="0" font-size="6.38" text-anchor="start" font-weight="normal" fill="#1a1a1a" stroke="#1a1a1a" transform="translate(330.10,78.40) scale(0.925,1)" >HSLT</text>
<line x1="318.00" y1="85.70" x2="326.80" y2="85.70" stroke="#35A6DE" stroke-width="1.0" />
<circle cx="322.40" cy="85.70" r="2.45" fill="#2A9CC2"/>
<text x="0" y="0" font-size="6.38" text-anchor="start" font-weight="normal" fill="#1a1a1a" stroke="#1a1a1a" transform="translate(330.10,87.80) scale(0.925,1)" >LSLT</text>
<line x1="23.30" y1="231.40" x2="23.30" y2="291.95" stroke="#1a1a1a" stroke-width="1.2" />
<line x1="22.70" y1="291.35" x2="124.00" y2="291.35" stroke="#1a1a1a" stroke-width="1.2" />
<line x1="20.30" y1="235.00" x2="23.30" y2="235.00" stroke="#1a1a1a" stroke-width="0.9" />
<text x="0" y="0" font-size="6.92" text-anchor="end" font-weight="normal" fill="#141414" stroke="#141414" transform="translate(17.40,237.30) scale(0.925,1)" style="stroke-width:0.06px">800</text>
<line x1="20.30" y1="248.50" x2="23.30" y2="248.50" stroke="#1a1a1a" stroke-width="0.9" />
<text x="0" y="0" font-size="6.92" text-anchor="end" font-weight="normal" fill="#141414" stroke="#141414" transform="translate(17.40,250.80) scale(0.925,1)" style="stroke-width:0.06px">600</text>
<line x1="20.30" y1="262.00" x2="23.30" y2="262.00" stroke="#1a1a1a" stroke-width="0.9" />
<text x="0" y="0" font-size="6.92" text-anchor="end" font-weight="normal" fill="#141414" stroke="#141414" transform="translate(17.40,264.30) scale(0.925,1)" style="stroke-width:0.06px">400</text>
<line x1="20.30" y1="275.50" x2="23.30" y2="275.50" stroke="#1a1a1a" stroke-width="0.9" />
<text x="0" y="0" font-size="6.92" text-anchor="end" font-weight="normal" fill="#141414" stroke="#141414" transform="translate(17.40,277.80) scale(0.925,1)" style="stroke-width:0.06px">200</text>
<line x1="20.30" y1="289.00" x2="23.30" y2="289.00" stroke="#1a1a1a" stroke-width="0.9" />
<text x="0" y="0" font-size="6.92" text-anchor="end" font-weight="normal" fill="#141414" stroke="#141414" transform="translate(17.40,291.30) scale(0.925,1)" style="stroke-width:0.06px">0</text>
<line x1="34.70" y1="291.35" x2="34.70" y2="294.15" stroke="#1a1a1a" stroke-width="0.9" />
<text x="0" y="0" font-size="6.49" text-anchor="end" fill="#141414" stroke="#141414" transform="translate(37.60,302.25) rotate(-45) scale(0.925,1)">HC</text>
<line x1="54.20" y1="291.35" x2="54.20" y2="294.15" stroke="#1a1a1a" stroke-width="0.9" />
<text x="0" y="0" font-size="6.49" text-anchor="end" fill="#141414" stroke="#141414" transform="translate(57.10,302.25) rotate(-45) scale(0.925,1)">HSHT</text>
<line x1="73.60" y1="291.35" x2="73.60" y2="294.15" stroke="#1a1a1a" stroke-width="0.9" />
<text x="0" y="0" font-size="6.49" text-anchor="end" fill="#141414" stroke="#141414" transform="translate(76.50,302.25) rotate(-45) scale(0.925,1)">HSLT</text>
<line x1="93.30" y1="291.35" x2="93.30" y2="294.15" stroke="#1a1a1a" stroke-width="0.9" />
<text x="0" y="0" font-size="6.49" text-anchor="end" fill="#141414" stroke="#141414" transform="translate(96.20,302.25) rotate(-45) scale(0.925,1)">LSHT</text>
<line x1="113.00" y1="291.35" x2="113.00" y2="294.15" stroke="#1a1a1a" stroke-width="0.9" />
<text x="0" y="0" font-size="6.49" text-anchor="end" fill="#141414" stroke="#141414" transform="translate(115.90,302.25) rotate(-45) scale(0.925,1)">LSLT</text>
<text x="0" y="0" font-size="8.70" text-anchor="middle" font-weight="normal" fill="#1e1e1e" stroke="#1e1e1e" transform="translate(74.00,225.90) scale(0.925,1)" style="stroke-width:0.04px">Clauss at ED</text>
<text x="0" y="0" font-size="10.40" text-anchor="start" font-weight="bold" fill="#000" stroke="#000" transform="translate(6.60,215.50) scale(1,1)" style="stroke-width:0.35px">C</text>
<rect x="28.20" y="268.50" width="13.00" height="6.00" fill="#2A7A58" fill-opacity="0.85" stroke="#0B4029" stroke-opacity="0.3" stroke-width="0.5"/>
<path d="M35.35,257.30 L35.46,257.77 L35.67,258.24 L35.80,258.71 L35.74,259.18 L36.09,259.65 L35.96,260.12 L35.97,260.59 L36.31,261.06 L35.80,261.53 L36.48,262.00 L36.40,262.48 L36.61,262.95 L36.28,263.42 L36.88,263.89 L36.52,264.36 L37.08,264.83 L37.51,265.30 L36.64,265.77 L37.84,266.24 L40.58,266.71 L38.83,267.18 L40.40,267.65 L39.64,268.12 L39.76,268.59 L42.47,269.06 L43.90,269.53 L41.44,270.00 L40.88,270.47 L44.72,270.94 L41.33,271.41 L41.68,271.88 L44.21,272.35 L43.30,272.82 L43.89,273.30 L39.98,273.77 L40.63,274.24 L40.11,274.71 L39.09,275.18 L39.51,275.65 L36.74,276.12 L36.43,276.59 L36.19,277.06 L35.65,277.53 L35.15,278.00 L34.25,278.00 L33.75,277.53 L33.21,277.06 L32.97,276.59 L32.66,276.12 L29.89,275.65 L30.31,275.18 L29.29,274.71 L28.77,274.24 L29.42,273.77 L25.51,273.30 L26.10,272.82 L25.19,272.35 L27.72,271.88 L28.07,271.41 L24.68,270.94 L28.52,270.47 L27.96,270.00 L25.50,269.53 L26.93,269.06 L29.64,268.59 L29.76,268.12 L29.00,267.65 L30.57,267.18 L28.82,266.71 L31.56,266.24 L32.76,265.77 L31.89,265.30 L32.32,264.83 L32.88,264.36 L32.52,263.89 L33.12,263.42 L32.79,262.95 L33.00,262.48 L32.92,262.00 L33.60,261.53 L33.09,261.06 L33.43,260.59 L33.44,260.12 L33.31,259.65 L33.66,259.18 L33.60,258.71 L33.73,258.24 L33.94,257.77 L34.05,257.30 Z" fill="#24704F" fill-opacity="0.88" stroke="none"/>
<line x1="28.20" y1="271.50" x2="41.20" y2="271.50" stroke="#0B4029" stroke-width="0.5" stroke-opacity="0.4"/>
<circle cx="33.58" cy="267.69" r="0.75" fill="#0B4029" fill-opacity="0.9"/>
<circle cx="29.26" cy="271.51" r="0.75" fill="#0B4029" fill-opacity="0.9"/>
<circle cx="34.37" cy="258.98" r="0.75" fill="#0B4029" fill-opacity="0.9"/>
<circle cx="34.46" cy="267.58" r="0.75" fill="#0B4029" fill-opacity="0.9"/>
<circle cx="36.19" cy="273.75" r="0.75" fill="#0B4029" fill-opacity="0.9"/>
<circle cx="36.10" cy="265.88" r="0.75" fill="#0B4029" fill-opacity="0.9"/>
<circle cx="36.81" cy="271.14" r="0.75" fill="#0B4029" fill-opacity="0.9"/>
<circle cx="34.92" cy="262.21" r="0.75" fill="#0B4029" fill-opacity="0.9"/>
<circle cx="38.08" cy="267.75" r="0.75" fill="#0B4029" fill-opacity="0.9"/>
<circle cx="39.29" cy="270.65" r="0.75" fill="#0B4029" fill-opacity="0.9"/>
<circle cx="33.39" cy="273.16" r="0.75" fill="#0B4029" fill-opacity="0.9"/>
<circle cx="39.36" cy="273.72" r="0.75" fill="#0B4029" fill-opacity="0.9"/>
<circle cx="31.39" cy="274.38" r="0.75" fill="#0B4029" fill-opacity="0.9"/>
<circle cx="34.19" cy="267.55" r="0.75" fill="#0B4029" fill-opacity="0.9"/>
<circle cx="34.79" cy="271.72" r="0.75" fill="#0B4029" fill-opacity="0.9"/>
<circle cx="35.68" cy="269.41" r="0.75" fill="#0B4029" fill-opacity="0.9"/>
<circle cx="36.98" cy="271.74" r="0.75" fill="#0B4029" fill-opacity="0.9"/>
<circle cx="38.55" cy="275.46" r="0.75" fill="#0B4029" fill-opacity="0.9"/>
<circle cx="39.34" cy="272.09" r="0.75" fill="#0B4029" fill-opacity="0.9"/>
<circle cx="34.96" cy="276.44" r="0.75" fill="#0B4029" fill-opacity="0.9"/>
<circle cx="38.85" cy="272.59" r="0.75" fill="#0B4029" fill-opacity="0.9"/>
<circle cx="29.23" cy="271.24" r="0.75" fill="#0B4029" fill-opacity="0.9"/>
<circle cx="30.68" cy="274.63" r="0.75" fill="#0B4029" fill-opacity="0.9"/>
<circle cx="30.96" cy="273.69" r="0.75" fill="#0B4029" fill-opacity="0.9"/>
<circle cx="38.14" cy="268.34" r="0.75" fill="#0B4029" fill-opacity="0.9"/>
<circle cx="33.75" cy="261.16" r="0.75" fill="#0B4029" fill-opacity="0.9"/>
<circle cx="39.47" cy="272.69" r="0.75" fill="#0B4029" fill-opacity="0.9"/>
<circle cx="36.18" cy="276.59" r="0.75" fill="#0B4029" fill-opacity="0.9"/>
<circle cx="35.70" cy="268.25" r="0.75" fill="#0B4029" fill-opacity="0.9"/>
<circle cx="34.53" cy="259.88" r="0.75" fill="#0B4029" fill-opacity="0.9"/>
<circle cx="28.88" cy="271.61" r="0.75" fill="#0B4029" fill-opacity="0.9"/>
<circle cx="39.18" cy="274.09" r="0.75" fill="#0B4029" fill-opacity="0.9"/>
<circle cx="34.34" cy="274.61" r="0.75" fill="#0B4029" fill-opacity="0.9"/>
<circle cx="35.88" cy="271.06" r="0.75" fill="#0B4029" fill-opacity="0.9"/>
<circle cx="40.13" cy="271.04" r="0.75" fill="#0B4029" fill-opacity="0.9"/>
<circle cx="37.37" cy="270.42" r="0.75" fill="#0B4029" fill-opacity="0.9"/>
<circle cx="38.80" cy="267.49" r="0.75" fill="#0B4029" fill-opacity="0.9"/>
<circle cx="28.68" cy="270.98" r="0.75" fill="#0B4029" fill-opacity="0.9"/>
<circle cx="29.17" cy="269.60" r="0.75" fill="#0B4029" fill-opacity="0.9"/>
<circle cx="29.10" cy="271.99" r="0.75" fill="#0B4029" fill-opacity="0.9"/>
<rect x="46.80" y="271.60" width="14.80" height="8.60" fill="#F27DB6" fill-opacity="0.85" stroke="#B8065A" stroke-opacity="0.3" stroke-width="0.5"/>
<path d="M54.35,259.00 L54.42,259.67 L54.49,260.34 L54.63,261.01 L54.55,261.68 L54.65,262.35 L54.91,263.02 L54.74,263.69 L55.13,264.36 L54.97,265.03 L55.31,265.70 L55.53,266.38 L55.42,267.05 L55.38,267.72 L56.01,268.39 L55.97,269.06 L56.87,269.73 L56.48,270.40 L57.76,271.07 L56.97,271.74 L57.58,272.41 L57.71,273.08 L58.34,273.75 L58.79,274.42 L58.50,275.09 L59.14,275.76 L57.73,276.43 L58.67,277.10 L58.02,277.77 L57.37,278.44 L56.88,279.11 L57.18,279.78 L56.51,280.45 L55.92,281.12 L55.86,281.80 L55.52,282.47 L55.38,283.14 L55.10,283.81 L55.39,284.48 L55.19,285.15 L54.73,285.82 L54.64,286.49 L54.58,287.16 L54.50,287.83 L54.36,288.50 L54.04,288.50 L53.90,287.83 L53.82,287.16 L53.76,286.49 L53.67,285.82 L53.21,285.15 L53.01,284.48 L53.30,283.81 L53.02,283.14 L52.88,282.47 L52.54,281.80 L52.48,281.12 L51.89,280.45 L51.22,279.78 L51.52,279.11 L51.03,278.44 L50.38,277.77 L49.73,277.10 L50.67,276.43 L49.26,275.76 L49.90,275.09 L49.61,274.42 L50.06,273.75 L50.69,273.08 L50.82,272.41 L51.43,271.74 L50.64,271.07 L51.92,270.40 L51.53,269.73 L52.43,269.06 L52.39,268.39 L53.02,267.72 L52.98,267.05 L52.87,266.38 L53.09,265.70 L53.43,265.03 L53.27,264.36 L53.66,263.69 L53.49,263.02 L53.75,262.35 L53.85,261.68 L53.77,261.01 L53.91,260.34 L53.98,259.67 L54.05,259.00 Z" fill="#E42E84" fill-opacity="0.8" stroke="none"/>
<line x1="46.80" y1="275.90" x2="61.60" y2="275.90" stroke="#B8065A" stroke-width="0.5" stroke-opacity="0.4"/>
<circle cx="55.34" cy="276.40" r="0.75" fill="#B8065A" fill-opacity="0.9"/>
<circle cx="55.69" cy="273.25" r="0.75" fill="#B8065A" fill-opacity="0.9"/>
<circle cx="54.34" cy="262.00" r="0.75" fill="#B8065A" fill-opacity="0.9"/>
<circle cx="54.14" cy="284.28" r="0.75" fill="#B8065A" fill-opacity="0.9"/>
<circle cx="53.33" cy="276.29" r="0.75" fill="#B8065A" fill-opacity="0.9"/>
<circle cx="54.74" cy="272.30" r="0.75" fill="#B8065A" fill-opacity="0.9"/>
<circle cx="55.73" cy="272.31" r="0.75" fill="#B8065A" fill-opacity="0.9"/>
<circle cx="54.42" cy="263.08" r="0.75" fill="#B8065A" fill-opacity="0.9"/>
<circle cx="55.90" cy="272.19" r="0.75" fill="#B8065A" fill-opacity="0.9"/>
<circle cx="53.91" cy="270.82" r="0.75" fill="#B8065A" fill-opacity="0.9"/>
<circle cx="53.17" cy="277.45" r="0.75" fill="#B8065A" fill-opacity="0.9"/>
<circle cx="53.85" cy="272.68" r="0.75" fill="#B8065A" fill-opacity="0.9"/>
<circle cx="53.60" cy="280.19" r="0.75" fill="#B8065A" fill-opacity="0.9"/>
<circle cx="53.89" cy="277.41" r="0.75" fill="#B8065A" fill-opacity="0.9"/>
<circle cx="54.33" cy="270.76" r="0.75" fill="#B8065A" fill-opacity="0.9"/>
<circle cx="55.61" cy="270.64" r="0.75" fill="#B8065A" fill-opacity="0.9"/>
<circle cx="55.32" cy="269.55" r="0.75" fill="#B8065A" fill-opacity="0.9"/>
<circle cx="53.23" cy="277.35" r="0.75" fill="#B8065A" fill-opacity="0.9"/>
<circle cx="54.96" cy="268.22" r="0.75" fill="#B8065A" fill-opacity="0.9"/>
<circle cx="53.79" cy="271.62" r="0.75" fill="#B8065A" fill-opacity="0.9"/>
<rect x="66.60" y="269.60" width="14.00" height="8.50" fill="#C9C3EA" fill-opacity="0.85" stroke="#7468B8" stroke-opacity="0.3" stroke-width="0.5"/>
<path d="M73.78,251.50 L73.79,252.34 L73.82,253.19 L73.91,254.03 L74.06,254.87 L74.14,255.72 L74.11,256.56 L74.10,257.40 L74.30,258.25 L74.45,259.09 L74.62,259.93 L74.67,260.77 L74.97,261.62 L75.16,262.46 L75.15,263.30 L75.57,264.15 L75.34,264.99 L75.97,265.83 L76.33,266.68 L76.91,267.52 L77.66,268.36 L77.09,269.21 L76.96,270.05 L78.63,270.89 L77.53,271.74 L79.37,272.58 L78.36,273.42 L77.09,274.27 L78.57,275.11 L78.34,275.95 L77.93,276.80 L76.56,277.64 L75.59,278.48 L75.46,279.32 L75.47,280.17 L75.47,281.01 L74.98,281.85 L74.93,282.70 L74.65,283.54 L74.38,284.38 L74.35,285.23 L74.13,286.07 L74.05,286.91 L73.93,287.76 L73.81,288.60 L73.39,288.60 L73.27,287.76 L73.15,286.91 L73.07,286.07 L72.85,285.23 L72.82,284.38 L72.55,283.54 L72.27,282.70 L72.22,281.85 L71.73,281.01 L71.73,280.17 L71.74,279.32 L71.61,278.48 L70.64,277.64 L69.27,276.80 L68.86,275.95 L68.63,275.11 L70.11,274.27 L68.84,273.42 L67.83,272.58 L69.67,271.74 L68.57,270.89 L70.24,270.05 L70.11,269.21 L69.54,268.36 L70.29,267.52 L70.87,266.68 L71.23,265.83 L71.86,264.99 L71.63,264.15 L72.05,263.30 L72.04,262.46 L72.23,261.62 L72.53,260.77 L72.58,259.93 L72.75,259.09 L72.90,258.25 L73.10,257.40 L73.09,256.56 L73.06,255.72 L73.14,254.87 L73.29,254.03 L73.38,253.19 L73.41,252.34 L73.42,251.50 Z" fill="#ADA5DD" fill-opacity="0.8" stroke="none"/>
<line x1="66.60" y1="273.85" x2="80.60" y2="273.85" stroke="#7468B8" stroke-width="0.5" stroke-opacity="0.4"/>
<circle cx="76.35" cy="270.82" r="0.75" fill="#7468B8" fill-opacity="0.9"/>
<circle cx="74.93" cy="264.59" r="0.75" fill="#7468B8" fill-opacity="0.9"/>
<circle cx="73.41" cy="280.56" r="0.75" fill="#7468B8" fill-opacity="0.9"/>
<circle cx="73.09" cy="283.04" r="0.75" fill="#7468B8" fill-opacity="0.9"/>
<circle cx="74.46" cy="277.06" r="0.75" fill="#7468B8" fill-opacity="0.9"/>
<circle cx="72.47" cy="272.41" r="0.75" fill="#7468B8" fill-opacity="0.9"/>
<circle cx="73.97" cy="267.17" r="0.75" fill="#7468B8" fill-opacity="0.9"/>
<circle cx="71.34" cy="268.61" r="0.75" fill="#7468B8" fill-opacity="0.9"/>
<circle cx="74.73" cy="281.17" r="0.75" fill="#7468B8" fill-opacity="0.9"/>
<circle cx="73.83" cy="280.49" r="0.75" fill="#7468B8" fill-opacity="0.9"/>
<circle cx="73.40" cy="255.07" r="0.75" fill="#7468B8" fill-opacity="0.9"/>
<circle cx="73.74" cy="269.34" r="0.75" fill="#7468B8" fill-opacity="0.9"/>
<circle cx="74.33" cy="271.24" r="0.75" fill="#7468B8" fill-opacity="0.9"/>
<circle cx="75.88" cy="269.85" r="0.75" fill="#7468B8" fill-opacity="0.9"/>
<circle cx="72.59" cy="271.96" r="0.75" fill="#7468B8" fill-opacity="0.9"/>
<circle cx="74.81" cy="266.70" r="0.75" fill="#7468B8" fill-opacity="0.9"/>
<circle cx="75.06" cy="266.07" r="0.75" fill="#7468B8" fill-opacity="0.9"/>
<circle cx="71.31" cy="277.90" r="0.75" fill="#7468B8" fill-opacity="0.9"/>
<circle cx="70.63" cy="274.56" r="0.75" fill="#7468B8" fill-opacity="0.9"/>
<circle cx="73.74" cy="268.18" r="0.75" fill="#7468B8" fill-opacity="0.9"/>
<rect x="85.90" y="268.80" width="14.80" height="8.70" fill="#F0BE6A" fill-opacity="0.85" stroke="#A86808" stroke-opacity="0.3" stroke-width="0.5"/>
<path d="M93.47,254.50 L93.56,255.27 L93.52,256.05 L93.67,256.82 L93.64,257.59 L93.70,258.36 L93.81,259.14 L93.84,259.91 L93.96,260.68 L93.87,261.45 L94.01,262.23 L94.44,263.00 L94.88,263.77 L94.93,264.55 L94.68,265.32 L94.69,266.09 L95.20,266.86 L96.29,267.64 L96.74,268.41 L97.41,269.18 L96.70,269.95 L96.72,270.73 L97.83,271.50 L97.60,272.27 L98.48,273.05 L99.10,273.82 L96.49,274.59 L96.86,275.36 L97.04,276.14 L97.32,276.91 L95.99,277.68 L95.51,278.45 L95.34,279.23 L95.17,280.00 L95.32,280.77 L94.60,281.55 L94.77,282.32 L94.13,283.09 L94.22,283.86 L93.90,284.64 L93.92,285.41 L93.69,286.18 L93.74,286.95 L93.52,287.73 L93.52,288.50 L93.08,288.50 L93.08,287.73 L92.86,286.95 L92.91,286.18 L92.68,285.41 L92.70,284.64 L92.38,283.86 L92.47,283.09 L91.83,282.32 L92.00,281.55 L91.28,280.77 L91.43,280.00 L91.26,279.23 L91.09,278.45 L90.61,277.68 L89.28,276.91 L89.56,276.14 L89.74,275.36 L90.11,274.59 L87.50,273.82 L88.12,273.05 L89.00,272.27 L88.77,271.50 L89.88,270.73 L89.90,269.95 L89.19,269.18 L89.86,268.41 L90.31,267.64 L91.40,266.86 L91.91,266.09 L91.92,265.32 L91.67,264.55 L91.72,263.77 L92.16,263.00 L92.59,262.23 L92.73,261.45 L92.64,260.68 L92.76,259.91 L92.79,259.14 L92.90,258.36 L92.96,257.59 L92.93,256.82 L93.08,256.05 L93.04,255.27 L93.13,254.50 Z" fill="#E39D22" fill-opacity="0.85" stroke="none"/>
<line x1="85.90" y1="273.15" x2="100.70" y2="273.15" stroke="#A86808" stroke-width="0.5" stroke-opacity="0.4"/>
<circle cx="95.12" cy="271.48" r="0.75" fill="#A86808" fill-opacity="0.9"/>
<circle cx="93.08" cy="254.14" r="0.75" fill="#A86808" fill-opacity="0.9"/>
<circle cx="94.50" cy="264.97" r="0.75" fill="#A86808" fill-opacity="0.9"/>
<circle cx="93.31" cy="278.90" r="0.75" fill="#A86808" fill-opacity="0.9"/>
<circle cx="92.45" cy="269.81" r="0.75" fill="#A86808" fill-opacity="0.9"/>
<circle cx="92.41" cy="274.66" r="0.75" fill="#A86808" fill-opacity="0.9"/>
<circle cx="91.85" cy="267.50" r="0.75" fill="#A86808" fill-opacity="0.9"/>
<circle cx="92.46" cy="273.99" r="0.75" fill="#A86808" fill-opacity="0.9"/>
<circle cx="93.06" cy="263.52" r="0.75" fill="#A86808" fill-opacity="0.9"/>
<circle cx="92.54" cy="274.82" r="0.75" fill="#A86808" fill-opacity="0.9"/>
<circle cx="93.00" cy="277.78" r="0.75" fill="#A86808" fill-opacity="0.9"/>
<circle cx="94.53" cy="270.72" r="0.75" fill="#A86808" fill-opacity="0.9"/>
<circle cx="93.04" cy="271.66" r="0.75" fill="#A86808" fill-opacity="0.9"/>
<circle cx="94.32" cy="269.21" r="0.75" fill="#A86808" fill-opacity="0.9"/>
<circle cx="93.18" cy="262.94" r="0.75" fill="#A86808" fill-opacity="0.9"/>
<circle cx="92.96" cy="280.35" r="0.75" fill="#A86808" fill-opacity="0.9"/>
<circle cx="92.71" cy="281.01" r="0.75" fill="#A86808" fill-opacity="0.9"/>
<circle cx="95.54" cy="271.97" r="0.75" fill="#A86808" fill-opacity="0.9"/>
<circle cx="94.98" cy="275.67" r="0.75" fill="#A86808" fill-opacity="0.9"/>
<circle cx="93.67" cy="275.55" r="0.75" fill="#A86808" fill-opacity="0.9"/>
<rect x="105.90" y="266.70" width="14.20" height="9.70" fill="#B2D6F2" fill-opacity="0.85" stroke="#2A80C2" stroke-opacity="0.3" stroke-width="0.5"/>
<path d="M113.16,245.50 L113.18,246.48 L113.19,247.45 L113.28,248.43 L113.38,249.41 L113.45,250.39 L113.45,251.36 L113.52,252.34 L113.56,253.32 L113.62,254.30 L113.68,255.27 L113.90,256.25 L113.76,257.23 L113.83,258.20 L114.34,259.18 L113.94,260.16 L114.36,261.14 L114.95,262.11 L115.10,263.09 L115.62,264.07 L115.25,265.05 L115.85,266.02 L115.62,267.00 L116.93,267.98 L116.50,268.95 L116.45,269.93 L116.42,270.91 L118.42,271.89 L117.78,272.86 L117.14,273.84 L117.39,274.82 L117.11,275.80 L116.83,276.77 L115.44,277.75 L115.31,278.73 L115.09,279.70 L114.76,280.68 L114.64,281.66 L114.58,282.64 L114.05,283.61 L114.06,284.59 L113.78,285.57 L113.56,286.55 L113.29,287.52 L113.19,288.50 L112.81,288.50 L112.71,287.52 L112.44,286.55 L112.22,285.57 L111.94,284.59 L111.95,283.61 L111.42,282.64 L111.36,281.66 L111.24,280.68 L110.91,279.70 L110.69,278.73 L110.56,277.75 L109.17,276.77 L108.89,275.80 L108.61,274.82 L108.86,273.84 L108.22,272.86 L107.58,271.89 L109.58,270.91 L109.55,269.93 L109.50,268.95 L109.07,267.98 L110.38,267.00 L110.15,266.02 L110.75,265.05 L110.38,264.07 L110.90,263.09 L111.05,262.11 L111.64,261.14 L112.06,260.16 L111.66,259.18 L112.17,258.20 L112.24,257.23 L112.10,256.25 L112.32,255.27 L112.38,254.30 L112.44,253.32 L112.48,252.34 L112.55,251.36 L112.55,250.39 L112.62,249.41 L112.72,248.43 L112.81,247.45 L112.82,246.48 L112.84,245.50 Z" fill="#8CC3EC" fill-opacity="0.8" stroke="none"/>
<line x1="105.90" y1="271.55" x2="120.10" y2="271.55" stroke="#2A80C2" stroke-width="0.5" stroke-opacity="0.4"/>
<circle cx="112.09" cy="260.23" r="0.75" fill="#2A80C2" fill-opacity="0.9"/>
<circle cx="111.79" cy="262.33" r="0.75" fill="#2A80C2" fill-opacity="0.9"/>
<circle cx="113.65" cy="258.86" r="0.75" fill="#2A80C2" fill-opacity="0.9"/>
<circle cx="114.08" cy="262.71" r="0.75" fill="#2A80C2" fill-opacity="0.9"/>
<circle cx="113.38" cy="261.41" r="0.75" fill="#2A80C2" fill-opacity="0.9"/>
<circle cx="113.33" cy="278.11" r="0.75" fill="#2A80C2" fill-opacity="0.9"/>
<circle cx="114.28" cy="276.40" r="0.75" fill="#2A80C2" fill-opacity="0.9"/>
<circle cx="110.44" cy="271.08" r="0.75" fill="#2A80C2" fill-opacity="0.9"/>
<circle cx="110.74" cy="276.14" r="0.75" fill="#2A80C2" fill-opacity="0.9"/>
<circle cx="114.90" cy="268.03" r="0.75" fill="#2A80C2" fill-opacity="0.9"/>
<circle cx="112.02" cy="264.79" r="0.75" fill="#2A80C2" fill-opacity="0.9"/>
<circle cx="112.33" cy="273.07" r="0.75" fill="#2A80C2" fill-opacity="0.9"/>
<circle cx="112.13" cy="267.89" r="0.75" fill="#2A80C2" fill-opacity="0.9"/>
<circle cx="113.00" cy="268.62" r="0.75" fill="#2A80C2" fill-opacity="0.9"/>
<circle cx="113.33" cy="284.52" r="0.75" fill="#2A80C2" fill-opacity="0.9"/>
<circle cx="113.81" cy="263.24" r="0.75" fill="#2A80C2" fill-opacity="0.9"/>
<circle cx="112.90" cy="273.85" r="0.75" fill="#2A80C2" fill-opacity="0.9"/>
<circle cx="110.92" cy="274.16" r="0.75" fill="#2A80C2" fill-opacity="0.9"/>
<circle cx="113.71" cy="259.38" r="0.75" fill="#2A80C2" fill-opacity="0.9"/>
<circle cx="114.42" cy="270.86" r="0.75" fill="#2A80C2" fill-opacity="0.9"/>
<circle cx="111.91" cy="263.88" r="0.75" fill="#2A80C2" fill-opacity="0.9"/>
<circle cx="111.30" cy="272.72" r="0.75" fill="#2A80C2" fill-opacity="0.9"/>
<circle cx="110.40" cy="253.50" r="0.7" fill="#2A80C2" fill-opacity="0.8"/>
<circle cx="111.70" cy="259.00" r="0.7" fill="#2A80C2" fill-opacity="0.8"/>
<polyline points="34.90,256.80 34.90,240.30 93.30,240.30 93.30,246.10" fill="none" stroke="#222" stroke-width="0.8"/>
<text x="64.10" y="240.90" font-size="6.0" text-anchor="middle" style="stroke-width:0.15px" fill="#111" stroke="#111">**</text>
<polyline points="34.90,256.80 34.90,246.10 73.60,246.10 73.60,252.20" fill="none" stroke="#222" stroke-width="0.8"/>
<text x="54.25" y="246.70" font-size="6.0" text-anchor="middle" style="stroke-width:0.15px" fill="#111" stroke="#111">**</text>
<polyline points="34.90,256.80 34.90,252.20 54.30,252.20 54.30,258.20" fill="none" stroke="#222" stroke-width="0.8"/>
<text x="44.60" y="252.80" font-size="6.0" text-anchor="middle" style="stroke-width:0.15px" fill="#111" stroke="#111">****</text>
<line x1="160.50" y1="230.30" x2="160.50" y2="291.90" stroke="#1a1a1a" stroke-width="1.2" />
<line x1="159.90" y1="291.30" x2="254.00" y2="291.30" stroke="#1a1a1a" stroke-width="1.2" />
<line x1="157.50" y1="249.20" x2="160.50" y2="249.20" stroke="#1a1a1a" stroke-width="0.9" />
<text x="0" y="0" font-size="6.92" text-anchor="end" font-weight="normal" fill="#141414" stroke="#141414" transform="translate(154.60,251.50) scale(0.925,1)" style="stroke-width:0.06px">1e+05</text>
<line x1="157.50" y1="269.00" x2="160.50" y2="269.00" stroke="#1a1a1a" stroke-width="0.9" />
<text x="0" y="0" font-size="6.92" text-anchor="end" font-weight="normal" fill="#141414" stroke="#141414" transform="translate(154.60,271.30) scale(0.925,1)" style="stroke-width:0.06px">5e+04</text>
<line x1="157.50" y1="288.90" x2="160.50" y2="288.90" stroke="#1a1a1a" stroke-width="0.9" />
<text x="0" y="0" font-size="6.92" text-anchor="end" font-weight="normal" fill="#141414" stroke="#141414" transform="translate(154.60,291.20) scale(0.925,1)" style="stroke-width:0.06px">0e+00</text>
<line x1="171.20" y1="291.30" x2="171.20" y2="294.10" stroke="#1a1a1a" stroke-width="0.9" />
<text x="0" y="0" font-size="6.49" text-anchor="end" fill="#141414" stroke="#141414" transform="translate(174.10,302.20) rotate(-45) scale(0.925,1)">HC</text>
<line x1="189.10" y1="291.30" x2="189.10" y2="294.10" stroke="#1a1a1a" stroke-width="0.9" />
<text x="0" y="0" font-size="6.49" text-anchor="end" fill="#141414" stroke="#141414" transform="translate(192.00,302.20) rotate(-45) scale(0.925,1)">HSHT</text>
<line x1="207.00" y1="291.30" x2="207.00" y2="294.10" stroke="#1a1a1a" stroke-width="0.9" />
<text x="0" y="0" font-size="6.49" text-anchor="end" fill="#141414" stroke="#141414" transform="translate(209.90,302.20) rotate(-45) scale(0.925,1)">HSLT</text>
<line x1="225.20" y1="291.30" x2="225.20" y2="294.10" stroke="#1a1a1a" stroke-width="0.9" />
<text x="0" y="0" font-size="6.49" text-anchor="end" fill="#141414" stroke="#141414" transform="translate(228.10,302.20) rotate(-45) scale(0.925,1)">LSHT</text>
<line x1="243.20" y1="291.30" x2="243.20" y2="294.10" stroke="#1a1a1a" stroke-width="0.9" />
<text x="0" y="0" font-size="6.49" text-anchor="end" fill="#141414" stroke="#141414" transform="translate(246.10,302.20) rotate(-45) scale(0.925,1)">LSLT</text>
<text x="0" y="0" font-size="8.70" text-anchor="middle" font-weight="normal" fill="#1e1e1e" stroke="#1e1e1e" transform="translate(207.30,225.90) scale(0.925,1)" style="stroke-width:0.04px">MS at ED</text>
<text x="0" y="0" font-size="10.40" text-anchor="start" font-weight="bold" fill="#000" stroke="#000" transform="translate(137.00,215.50) scale(1,1)" style="stroke-width:0.35px">D</text>
<rect x="164.70" y="264.00" width="13.00" height="7.00" fill="#2A7A58" fill-opacity="0.85" stroke="#0B4029" stroke-opacity="0.3" stroke-width="0.5"/>
<path d="M171.47,253.80 L171.51,254.35 L171.58,254.90 L171.59,255.45 L171.65,256.00 L171.81,256.55 L171.71,257.10 L171.85,257.65 L171.75,258.20 L171.94,258.75 L172.11,259.30 L172.06,259.85 L172.12,260.40 L172.48,260.95 L172.56,261.50 L173.03,262.05 L174.26,262.60 L175.02,263.15 L175.48,263.70 L177.36,264.25 L178.27,264.80 L179.61,265.35 L176.95,265.90 L177.00,266.45 L178.41,267.00 L179.26,267.55 L180.29,268.10 L179.57,268.65 L180.16,269.20 L176.35,269.75 L176.51,270.30 L176.85,270.85 L176.16,271.40 L174.61,271.95 L173.80,272.50 L174.08,273.05 L173.88,273.60 L173.24,274.15 L172.26,274.70 L172.32,275.25 L172.28,275.80 L171.89,276.35 L171.93,276.90 L171.55,277.45 L171.56,278.00 L170.84,278.00 L170.85,277.45 L170.47,276.90 L170.51,276.35 L170.12,275.80 L170.08,275.25 L170.14,274.70 L169.16,274.15 L168.52,273.60 L168.32,273.05 L168.60,272.50 L167.79,271.95 L166.24,271.40 L165.55,270.85 L165.89,270.30 L166.05,269.75 L162.24,269.20 L162.83,268.65 L162.11,268.10 L163.14,267.55 L163.99,267.00 L165.40,266.45 L165.45,265.90 L162.79,265.35 L164.13,264.80 L165.04,264.25 L166.92,263.70 L167.38,263.15 L168.14,262.60 L169.37,262.05 L169.84,261.50 L169.92,260.95 L170.28,260.40 L170.34,259.85 L170.29,259.30 L170.46,258.75 L170.65,258.20 L170.55,257.65 L170.69,257.10 L170.59,256.55 L170.75,256.00 L170.81,255.45 L170.82,254.90 L170.89,254.35 L170.93,253.80 Z" fill="#24704F" fill-opacity="0.88" stroke="none"/>
<line x1="164.70" y1="267.50" x2="177.70" y2="267.50" stroke="#0B4029" stroke-width="0.5" stroke-opacity="0.4"/>
<circle cx="174.57" cy="268.84" r="0.75" fill="#0B4029" fill-opacity="0.9"/>
<circle cx="172.62" cy="273.79" r="0.75" fill="#0B4029" fill-opacity="0.9"/>
<circle cx="171.61" cy="258.17" r="0.75" fill="#0B4029" fill-opacity="0.9"/>
<circle cx="167.00" cy="269.52" r="0.75" fill="#0B4029" fill-opacity="0.9"/>
<circle cx="171.70" cy="266.80" r="0.75" fill="#0B4029" fill-opacity="0.9"/>
<circle cx="167.86" cy="267.71" r="0.75" fill="#0B4029" fill-opacity="0.9"/>
<circle cx="174.02" cy="265.68" r="0.75" fill="#0B4029" fill-opacity="0.9"/>
<circle cx="168.70" cy="263.94" r="0.75" fill="#0B4029" fill-opacity="0.9"/>
<circle cx="165.52" cy="268.35" r="0.75" fill="#0B4029" fill-opacity="0.9"/>
<circle cx="169.58" cy="271.72" r="0.75" fill="#0B4029" fill-opacity="0.9"/>
<circle cx="170.88" cy="276.10" r="0.75" fill="#0B4029" fill-opacity="0.9"/>
<circle cx="171.56" cy="274.73" r="0.75" fill="#0B4029" fill-opacity="0.9"/>
<circle cx="172.86" cy="264.60" r="0.75" fill="#0B4029" fill-opacity="0.9"/>
<circle cx="170.79" cy="275.01" r="0.75" fill="#0B4029" fill-opacity="0.9"/>
<circle cx="167.36" cy="265.63" r="0.75" fill="#0B4029" fill-opacity="0.9"/>
<circle cx="171.46" cy="261.34" r="0.75" fill="#0B4029" fill-opacity="0.9"/>
<circle cx="171.10" cy="254.49" r="0.75" fill="#0B4029" fill-opacity="0.9"/>
<circle cx="171.00" cy="265.60" r="0.75" fill="#0B4029" fill-opacity="0.9"/>
<circle cx="173.42" cy="265.88" r="0.75" fill="#0B4029" fill-opacity="0.9"/>
<circle cx="170.34" cy="261.33" r="0.75" fill="#0B4029" fill-opacity="0.9"/>
<circle cx="166.45" cy="270.58" r="0.75" fill="#0B4029" fill-opacity="0.9"/>
<circle cx="171.91" cy="270.74" r="0.75" fill="#0B4029" fill-opacity="0.9"/>
<circle cx="171.00" cy="255.09" r="0.75" fill="#0B4029" fill-opacity="0.9"/>
<circle cx="171.87" cy="273.91" r="0.75" fill="#0B4029" fill-opacity="0.9"/>
<circle cx="170.57" cy="273.40" r="0.75" fill="#0B4029" fill-opacity="0.9"/>
<circle cx="174.19" cy="265.92" r="0.75" fill="#0B4029" fill-opacity="0.9"/>
<circle cx="172.60" cy="262.80" r="0.75" fill="#0B4029" fill-opacity="0.9"/>
<circle cx="174.52" cy="271.03" r="0.75" fill="#0B4029" fill-opacity="0.9"/>
<circle cx="171.60" cy="261.92" r="0.75" fill="#0B4029" fill-opacity="0.9"/>
<circle cx="172.91" cy="272.92" r="0.75" fill="#0B4029" fill-opacity="0.9"/>
<circle cx="169.04" cy="267.95" r="0.75" fill="#0B4029" fill-opacity="0.9"/>
<circle cx="168.15" cy="263.91" r="0.75" fill="#0B4029" fill-opacity="0.9"/>
<circle cx="167.53" cy="269.60" r="0.75" fill="#0B4029" fill-opacity="0.9"/>
<circle cx="171.26" cy="260.79" r="0.75" fill="#0B4029" fill-opacity="0.9"/>
<circle cx="172.25" cy="266.24" r="0.75" fill="#0B4029" fill-opacity="0.9"/>
<circle cx="170.49" cy="270.81" r="0.75" fill="#0B4029" fill-opacity="0.9"/>
<circle cx="170.36" cy="261.28" r="0.75" fill="#0B4029" fill-opacity="0.9"/>
<circle cx="166.87" cy="267.82" r="0.75" fill="#0B4029" fill-opacity="0.9"/>
<circle cx="172.54" cy="270.11" r="0.75" fill="#0B4029" fill-opacity="0.9"/>
<circle cx="170.61" cy="270.54" r="0.75" fill="#0B4029" fill-opacity="0.9"/>
<circle cx="170.00" cy="255.50" r="0.7" fill="#0B4029" fill-opacity="0.8"/>
<circle cx="172.60" cy="256.00" r="0.7" fill="#0B4029" fill-opacity="0.8"/>
<circle cx="174.20" cy="258.50" r="0.7" fill="#0B4029" fill-opacity="0.8"/>
<circle cx="168.80" cy="260.00" r="0.7" fill="#0B4029" fill-opacity="0.8"/>
<circle cx="173.70" cy="274.00" r="0.7" fill="#0B4029" fill-opacity="0.8"/>
<rect x="181.80" y="264.70" width="14.60" height="5.20" fill="#F27DB6" fill-opacity="0.85" stroke="#B8065A" stroke-opacity="0.3" stroke-width="0.5"/>
<path d="M189.26,256.00 L189.29,256.58 L189.45,257.16 L189.57,257.75 L189.66,258.33 L189.65,258.91 L189.74,259.49 L189.90,260.07 L189.96,260.65 L190.07,261.24 L190.51,261.82 L190.75,262.40 L190.80,262.98 L192.59,263.56 L192.22,264.15 L193.78,264.73 L194.16,265.31 L194.72,265.89 L196.08,266.47 L194.10,267.05 L195.94,267.64 L194.72,268.22 L194.34,268.80 L193.30,269.38 L193.08,269.96 L192.80,270.55 L191.14,271.13 L190.64,271.71 L190.76,272.29 L191.01,272.87 L190.21,273.45 L190.34,274.04 L190.14,274.62 L189.86,275.20 L189.84,275.78 L189.85,276.36 L189.87,276.95 L189.78,277.53 L189.52,278.11 L189.47,278.69 L189.56,279.27 L189.35,279.85 L189.36,280.44 L189.38,281.02 L189.28,281.60 L188.92,281.60 L188.82,281.02 L188.84,280.44 L188.85,279.85 L188.64,279.27 L188.73,278.69 L188.68,278.11 L188.42,277.53 L188.33,276.95 L188.35,276.36 L188.36,275.78 L188.34,275.20 L188.06,274.62 L187.86,274.04 L187.99,273.45 L187.19,272.87 L187.44,272.29 L187.56,271.71 L187.06,271.13 L185.40,270.55 L185.12,269.96 L184.90,269.38 L183.86,268.80 L183.48,268.22 L182.26,267.64 L184.10,267.05 L182.12,266.47 L183.48,265.89 L184.04,265.31 L184.42,264.73 L185.98,264.15 L185.61,263.56 L187.40,262.98 L187.45,262.40 L187.69,261.82 L188.13,261.24 L188.24,260.65 L188.30,260.07 L188.46,259.49 L188.55,258.91 L188.54,258.33 L188.63,257.75 L188.75,257.16 L188.91,256.58 L188.94,256.00 Z" fill="#E42E84" fill-opacity="0.8" stroke="none"/>
<line x1="181.80" y1="267.30" x2="196.40" y2="267.30" stroke="#B8065A" stroke-width="0.5" stroke-opacity="0.4"/>
<circle cx="187.84" cy="264.42" r="0.75" fill="#B8065A" fill-opacity="0.9"/>
<circle cx="192.53" cy="267.45" r="0.75" fill="#B8065A" fill-opacity="0.9"/>
<circle cx="189.09" cy="278.07" r="0.75" fill="#B8065A" fill-opacity="0.9"/>
<circle cx="187.52" cy="269.37" r="0.75" fill="#B8065A" fill-opacity="0.9"/>
<circle cx="187.96" cy="266.19" r="0.75" fill="#B8065A" fill-opacity="0.9"/>
<circle cx="189.18" cy="279.64" r="0.75" fill="#B8065A" fill-opacity="0.9"/>
<circle cx="185.29" cy="267.51" r="0.75" fill="#B8065A" fill-opacity="0.9"/>
<circle cx="191.89" cy="265.53" r="0.75" fill="#B8065A" fill-opacity="0.9"/>
<circle cx="191.65" cy="266.70" r="0.75" fill="#B8065A" fill-opacity="0.9"/>
<circle cx="191.06" cy="269.51" r="0.75" fill="#B8065A" fill-opacity="0.9"/>
<circle cx="187.07" cy="266.64" r="0.75" fill="#B8065A" fill-opacity="0.9"/>
<circle cx="190.96" cy="267.27" r="0.75" fill="#B8065A" fill-opacity="0.9"/>
<circle cx="190.24" cy="265.67" r="0.75" fill="#B8065A" fill-opacity="0.9"/>
<circle cx="189.51" cy="267.83" r="0.75" fill="#B8065A" fill-opacity="0.9"/>
<circle cx="188.82" cy="265.45" r="0.75" fill="#B8065A" fill-opacity="0.9"/>
<circle cx="190.62" cy="270.66" r="0.75" fill="#B8065A" fill-opacity="0.9"/>
<circle cx="191.11" cy="266.01" r="0.75" fill="#B8065A" fill-opacity="0.9"/>
<circle cx="190.34" cy="271.01" r="0.75" fill="#B8065A" fill-opacity="0.9"/>
<circle cx="190.38" cy="272.44" r="0.75" fill="#B8065A" fill-opacity="0.9"/>
<circle cx="189.13" cy="276.38" r="0.75" fill="#B8065A" fill-opacity="0.9"/>
<circle cx="191.80" cy="264.41" r="0.75" fill="#B8065A" fill-opacity="0.9"/>
<circle cx="191.24" cy="267.21" r="0.75" fill="#B8065A" fill-opacity="0.9"/>
<circle cx="186.90" cy="259.00" r="0.7" fill="#B8065A" fill-opacity="0.8"/>
<circle cx="186.60" cy="275.50" r="0.7" fill="#B8065A" fill-opacity="0.8"/>
<circle cx="190.60" cy="277.00" r="0.7" fill="#B8065A" fill-opacity="0.8"/>
<rect x="200.00" y="264.00" width="14.00" height="8.00" fill="#C9C3EA" fill-opacity="0.85" stroke="#7468B8" stroke-opacity="0.3" stroke-width="0.5"/>
<path d="M207.19,250.90 L207.21,251.76 L207.24,252.63 L207.30,253.49 L207.39,254.35 L207.31,255.22 L207.52,256.08 L207.44,256.95 L207.41,257.81 L207.71,258.67 L207.72,259.54 L207.99,260.40 L207.84,261.26 L208.24,262.13 L208.77,262.99 L209.84,263.85 L209.78,264.72 L209.79,265.58 L210.87,266.45 L210.81,267.31 L211.59,268.17 L211.29,269.04 L209.93,269.90 L210.18,270.76 L209.95,271.63 L209.10,272.49 L208.41,273.35 L208.10,274.22 L208.21,275.08 L207.77,275.95 L207.85,276.81 L207.74,277.67 L207.67,278.54 L207.44,279.40 L207.50,280.26 L207.45,281.13 L207.54,281.99 L207.51,282.85 L207.45,283.72 L207.30,284.58 L207.32,285.45 L207.27,286.31 L207.27,287.17 L207.24,288.04 L207.23,288.90 L206.77,288.90 L206.76,288.04 L206.73,287.17 L206.73,286.31 L206.68,285.45 L206.70,284.58 L206.55,283.72 L206.49,282.85 L206.46,281.99 L206.55,281.13 L206.50,280.26 L206.56,279.40 L206.33,278.54 L206.26,277.67 L206.15,276.81 L206.23,275.95 L205.79,275.08 L205.90,274.22 L205.59,273.35 L204.90,272.49 L204.05,271.63 L203.82,270.76 L204.07,269.90 L202.71,269.04 L202.41,268.17 L203.19,267.31 L203.13,266.45 L204.21,265.58 L204.22,264.72 L204.16,263.85 L205.23,262.99 L205.76,262.13 L206.16,261.26 L206.01,260.40 L206.28,259.54 L206.29,258.67 L206.59,257.81 L206.56,256.95 L206.48,256.08 L206.69,255.22 L206.61,254.35 L206.70,253.49 L206.76,252.63 L206.79,251.76 L206.81,250.90 Z" fill="#ADA5DD" fill-opacity="0.8" stroke="none"/>
<line x1="200.00" y1="268.00" x2="214.00" y2="268.00" stroke="#7468B8" stroke-width="0.5" stroke-opacity="0.4"/>
<circle cx="208.14" cy="271.36" r="0.75" fill="#7468B8" fill-opacity="0.9"/>
<circle cx="206.56" cy="269.17" r="0.75" fill="#7468B8" fill-opacity="0.9"/>
<circle cx="207.68" cy="270.12" r="0.75" fill="#7468B8" fill-opacity="0.9"/>
<circle cx="205.62" cy="271.25" r="0.75" fill="#7468B8" fill-opacity="0.9"/>
<circle cx="205.39" cy="267.43" r="0.75" fill="#7468B8" fill-opacity="0.9"/>
<circle cx="204.91" cy="270.87" r="0.75" fill="#7468B8" fill-opacity="0.9"/>
<circle cx="204.35" cy="267.95" r="0.75" fill="#7468B8" fill-opacity="0.9"/>
<circle cx="206.41" cy="261.98" r="0.75" fill="#7468B8" fill-opacity="0.9"/>
<circle cx="206.88" cy="263.48" r="0.75" fill="#7468B8" fill-opacity="0.9"/>
<circle cx="207.47" cy="266.53" r="0.75" fill="#7468B8" fill-opacity="0.9"/>
<circle cx="204.83" cy="265.04" r="0.75" fill="#7468B8" fill-opacity="0.9"/>
<circle cx="206.48" cy="267.13" r="0.75" fill="#7468B8" fill-opacity="0.9"/>
<circle cx="206.79" cy="261.53" r="0.75" fill="#7468B8" fill-opacity="0.9"/>
<circle cx="206.74" cy="256.17" r="0.75" fill="#7468B8" fill-opacity="0.9"/>
<circle cx="207.45" cy="268.91" r="0.75" fill="#7468B8" fill-opacity="0.9"/>
<circle cx="206.95" cy="283.11" r="0.75" fill="#7468B8" fill-opacity="0.9"/>
<circle cx="206.71" cy="273.47" r="0.75" fill="#7468B8" fill-opacity="0.9"/>
<circle cx="207.17" cy="263.07" r="0.75" fill="#7468B8" fill-opacity="0.9"/>
<circle cx="207.07" cy="283.23" r="0.75" fill="#7468B8" fill-opacity="0.9"/>
<circle cx="204.40" cy="266.76" r="0.75" fill="#7468B8" fill-opacity="0.9"/>
<rect x="218.70" y="263.50" width="13.00" height="6.00" fill="#F0BE6A" fill-opacity="0.85" stroke="#A86808" stroke-opacity="0.3" stroke-width="0.5"/>
<path d="M225.37,250.50 L225.44,251.15 L225.47,251.80 L225.52,252.44 L225.50,253.09 L225.66,253.74 L225.63,254.39 L225.61,255.03 L225.68,255.68 L225.62,256.33 L225.94,256.98 L226.10,257.62 L226.29,258.27 L226.56,258.92 L226.47,259.57 L226.83,260.22 L227.18,260.86 L227.39,261.51 L229.26,262.16 L229.26,262.81 L229.62,263.45 L230.95,264.10 L230.14,264.75 L232.22,265.40 L232.29,266.05 L232.73,266.69 L231.73,267.34 L230.36,267.99 L231.86,268.64 L231.08,269.28 L230.01,269.93 L227.93,270.58 L227.85,271.23 L227.16,271.88 L226.89,272.52 L227.29,273.17 L226.89,273.82 L226.60,274.47 L226.19,275.11 L226.14,275.76 L226.17,276.41 L225.81,277.06 L225.61,277.70 L225.54,278.35 L225.54,279.00 L224.86,279.00 L224.86,278.35 L224.79,277.70 L224.59,277.06 L224.23,276.41 L224.26,275.76 L224.21,275.11 L223.80,274.47 L223.51,273.82 L223.11,273.17 L223.51,272.52 L223.24,271.88 L222.55,271.23 L222.47,270.58 L220.39,269.93 L219.32,269.28 L218.54,268.64 L220.04,267.99 L218.67,267.34 L217.67,266.69 L218.11,266.05 L218.18,265.40 L220.26,264.75 L219.45,264.10 L220.78,263.45 L221.14,262.81 L221.14,262.16 L223.01,261.51 L223.22,260.86 L223.57,260.22 L223.93,259.57 L223.84,258.92 L224.11,258.27 L224.30,257.62 L224.46,256.98 L224.78,256.33 L224.72,255.68 L224.79,255.03 L224.77,254.39 L224.74,253.74 L224.90,253.09 L224.88,252.44 L224.93,251.80 L224.96,251.15 L225.03,250.50 Z" fill="#E39D22" fill-opacity="0.85" stroke="none"/>
<line x1="218.70" y1="266.50" x2="231.70" y2="266.50" stroke="#A86808" stroke-width="0.5" stroke-opacity="0.4"/>
<circle cx="225.54" cy="260.92" r="0.75" fill="#A86808" fill-opacity="0.9"/>
<circle cx="227.13" cy="262.26" r="0.75" fill="#A86808" fill-opacity="0.9"/>
<circle cx="222.35" cy="265.34" r="0.75" fill="#A86808" fill-opacity="0.9"/>
<circle cx="224.23" cy="264.48" r="0.75" fill="#A86808" fill-opacity="0.9"/>
<circle cx="225.34" cy="275.44" r="0.75" fill="#A86808" fill-opacity="0.9"/>
<circle cx="225.17" cy="264.49" r="0.75" fill="#A86808" fill-opacity="0.9"/>
<circle cx="230.24" cy="265.25" r="0.75" fill="#A86808" fill-opacity="0.9"/>
<circle cx="224.96" cy="265.87" r="0.75" fill="#A86808" fill-opacity="0.9"/>
<circle cx="224.97" cy="261.61" r="0.75" fill="#A86808" fill-opacity="0.9"/>
<circle cx="227.85" cy="264.33" r="0.75" fill="#A86808" fill-opacity="0.9"/>
<circle cx="225.06" cy="253.76" r="0.75" fill="#A86808" fill-opacity="0.9"/>
<circle cx="224.65" cy="274.04" r="0.75" fill="#A86808" fill-opacity="0.9"/>
<circle cx="229.16" cy="263.83" r="0.75" fill="#A86808" fill-opacity="0.9"/>
<circle cx="224.99" cy="264.19" r="0.75" fill="#A86808" fill-opacity="0.9"/>
<circle cx="227.28" cy="268.07" r="0.75" fill="#A86808" fill-opacity="0.9"/>
<circle cx="224.40" cy="261.72" r="0.75" fill="#A86808" fill-opacity="0.9"/>
<circle cx="223.24" cy="266.56" r="0.75" fill="#A86808" fill-opacity="0.9"/>
<circle cx="223.86" cy="266.66" r="0.75" fill="#A86808" fill-opacity="0.9"/>
<circle cx="221.82" cy="269.36" r="0.75" fill="#A86808" fill-opacity="0.9"/>
<circle cx="228.57" cy="264.07" r="0.75" fill="#A86808" fill-opacity="0.9"/>
<circle cx="223.46" cy="271.91" r="0.75" fill="#A86808" fill-opacity="0.9"/>
<circle cx="225.66" cy="269.87" r="0.75" fill="#A86808" fill-opacity="0.9"/>
<circle cx="225.05" cy="268.74" r="0.75" fill="#A86808" fill-opacity="0.9"/>
<circle cx="224.86" cy="272.43" r="0.75" fill="#A86808" fill-opacity="0.9"/>
<circle cx="226.80" cy="252.50" r="0.7" fill="#A86808" fill-opacity="0.8"/>
<circle cx="225.70" cy="255.00" r="0.7" fill="#A86808" fill-opacity="0.8"/>
<rect x="236.10" y="263.50" width="14.20" height="8.10" fill="#B2D6F2" fill-opacity="0.85" stroke="#2A80C2" stroke-opacity="0.3" stroke-width="0.5"/>
<path d="M243.45,249.70 L243.45,250.55 L243.45,251.40 L243.46,252.24 L243.62,253.09 L243.61,253.94 L243.74,254.79 L243.69,255.63 L243.83,256.48 L243.80,257.33 L244.07,258.18 L244.17,259.02 L244.48,259.87 L244.47,260.72 L244.50,261.57 L245.38,262.42 L245.70,263.26 L246.16,264.11 L247.49,264.96 L246.91,265.81 L247.98,266.65 L247.62,267.50 L247.66,268.35 L248.34,269.20 L247.81,270.05 L246.51,270.89 L245.87,271.74 L245.85,272.59 L245.35,273.44 L245.43,274.28 L244.81,275.13 L244.66,275.98 L244.50,276.83 L244.06,277.68 L243.89,278.52 L244.10,279.37 L244.10,280.22 L243.87,281.07 L243.66,281.91 L243.67,282.76 L243.75,283.61 L243.65,284.46 L243.54,285.30 L243.42,286.15 L243.41,287.00 L242.99,287.00 L242.98,286.15 L242.86,285.30 L242.75,284.46 L242.65,283.61 L242.73,282.76 L242.74,281.91 L242.53,281.07 L242.30,280.22 L242.30,279.37 L242.51,278.52 L242.34,277.68 L241.90,276.83 L241.74,275.98 L241.59,275.13 L240.97,274.28 L241.05,273.44 L240.55,272.59 L240.53,271.74 L239.89,270.89 L238.59,270.05 L238.06,269.20 L238.74,268.35 L238.78,267.50 L238.42,266.65 L239.49,265.81 L238.91,264.96 L240.24,264.11 L240.70,263.26 L241.02,262.42 L241.90,261.57 L241.93,260.72 L241.92,259.87 L242.23,259.02 L242.33,258.18 L242.60,257.33 L242.57,256.48 L242.71,255.63 L242.66,254.79 L242.79,253.94 L242.78,253.09 L242.94,252.24 L242.95,251.40 L242.95,250.55 L242.95,249.70 Z" fill="#8CC3EC" fill-opacity="0.8" stroke="none"/>
<line x1="236.10" y1="267.55" x2="250.30" y2="267.55" stroke="#2A80C2" stroke-width="0.5" stroke-opacity="0.4"/>
<circle cx="242.62" cy="274.89" r="0.75" fill="#2A80C2" fill-opacity="0.9"/>
<circle cx="244.34" cy="273.94" r="0.75" fill="#2A80C2" fill-opacity="0.9"/>
<circle cx="242.22" cy="271.69" r="0.75" fill="#2A80C2" fill-opacity="0.9"/>
<circle cx="241.81" cy="273.76" r="0.75" fill="#2A80C2" fill-opacity="0.9"/>
<circle cx="243.18" cy="268.39" r="0.75" fill="#2A80C2" fill-opacity="0.9"/>
<circle cx="243.69" cy="265.53" r="0.75" fill="#2A80C2" fill-opacity="0.9"/>
<circle cx="242.28" cy="273.94" r="0.75" fill="#2A80C2" fill-opacity="0.9"/>
<circle cx="243.75" cy="274.52" r="0.75" fill="#2A80C2" fill-opacity="0.9"/>
<circle cx="243.53" cy="254.96" r="0.75" fill="#2A80C2" fill-opacity="0.9"/>
<circle cx="242.93" cy="287.16" r="0.75" fill="#2A80C2" fill-opacity="0.9"/>
<circle cx="243.61" cy="274.91" r="0.75" fill="#2A80C2" fill-opacity="0.9"/>
<circle cx="242.78" cy="280.39" r="0.75" fill="#2A80C2" fill-opacity="0.9"/>
<circle cx="241.31" cy="265.29" r="0.75" fill="#2A80C2" fill-opacity="0.9"/>
<circle cx="241.30" cy="269.98" r="0.75" fill="#2A80C2" fill-opacity="0.9"/>
<circle cx="241.01" cy="269.68" r="0.75" fill="#2A80C2" fill-opacity="0.9"/>
<circle cx="240.45" cy="266.31" r="0.75" fill="#2A80C2" fill-opacity="0.9"/>
<circle cx="245.54" cy="269.39" r="0.75" fill="#2A80C2" fill-opacity="0.9"/>
<circle cx="242.77" cy="261.51" r="0.75" fill="#2A80C2" fill-opacity="0.9"/>
<circle cx="245.65" cy="270.04" r="0.75" fill="#2A80C2" fill-opacity="0.9"/>
<circle cx="244.43" cy="266.30" r="0.75" fill="#2A80C2" fill-opacity="0.9"/>
<circle cx="243.22" cy="262.52" r="0.75" fill="#2A80C2" fill-opacity="0.9"/>
<circle cx="243.38" cy="277.72" r="0.75" fill="#2A80C2" fill-opacity="0.9"/>
<circle cx="245.40" cy="255.00" r="0.7" fill="#2A80C2" fill-opacity="0.8"/>
<circle cx="244.70" cy="280.00" r="0.7" fill="#2A80C2" fill-opacity="0.8"/>
<line x1="282.90" y1="230.90" x2="282.90" y2="292.10" stroke="#1a1a1a" stroke-width="1.2" />
<line x1="282.30" y1="291.50" x2="384.00" y2="291.50" stroke="#1a1a1a" stroke-width="1.2" />
<line x1="279.90" y1="242.40" x2="282.90" y2="242.40" stroke="#1a1a1a" stroke-width="0.9" />
<text x="0" y="0" font-size="6.92" text-anchor="end" font-weight="normal" fill="#141414" stroke="#141414" transform="translate(277.00,244.70) scale(0.925,1)" style="stroke-width:0.06px">600</text>
<line x1="279.90" y1="258.00" x2="282.90" y2="258.00" stroke="#1a1a1a" stroke-width="0.9" />
<text x="0" y="0" font-size="6.92" text-anchor="end" font-weight="normal" fill="#141414" stroke="#141414" transform="translate(277.00,260.30) scale(0.925,1)" style="stroke-width:0.06px">400</text>
<line x1="279.90" y1="273.60" x2="282.90" y2="273.60" stroke="#1a1a1a" stroke-width="0.9" />
<text x="0" y="0" font-size="6.92" text-anchor="end" font-weight="normal" fill="#141414" stroke="#141414" transform="translate(277.00,275.90) scale(0.925,1)" style="stroke-width:0.06px">200</text>
<line x1="279.90" y1="289.20" x2="282.90" y2="289.20" stroke="#1a1a1a" stroke-width="0.9" />
<text x="0" y="0" font-size="6.92" text-anchor="end" font-weight="normal" fill="#141414" stroke="#141414" transform="translate(277.00,291.50) scale(0.925,1)" style="stroke-width:0.06px">0</text>
<line x1="294.60" y1="291.50" x2="294.60" y2="294.30" stroke="#1a1a1a" stroke-width="0.9" />
<text x="0" y="0" font-size="6.49" text-anchor="end" fill="#141414" stroke="#141414" transform="translate(297.50,302.40) rotate(-45) scale(0.925,1)">HC</text>
<line x1="314.00" y1="291.50" x2="314.00" y2="294.30" stroke="#1a1a1a" stroke-width="0.9" />
<text x="0" y="0" font-size="6.49" text-anchor="end" fill="#141414" stroke="#141414" transform="translate(316.90,302.40) rotate(-45) scale(0.925,1)">HSHT</text>
<line x1="333.40" y1="291.50" x2="333.40" y2="294.30" stroke="#1a1a1a" stroke-width="0.9" />
<text x="0" y="0" font-size="6.49" text-anchor="end" fill="#141414" stroke="#141414" transform="translate(336.30,302.40) rotate(-45) scale(0.925,1)">HSLT</text>
<line x1="353.30" y1="291.50" x2="353.30" y2="294.30" stroke="#1a1a1a" stroke-width="0.9" />
<text x="0" y="0" font-size="6.49" text-anchor="end" fill="#141414" stroke="#141414" transform="translate(356.20,302.40) rotate(-45) scale(0.925,1)">LSHT</text>
<line x1="372.60" y1="291.50" x2="372.60" y2="294.30" stroke="#1a1a1a" stroke-width="0.9" />
<text x="0" y="0" font-size="6.49" text-anchor="end" fill="#141414" stroke="#141414" transform="translate(375.50,302.40) rotate(-45) scale(0.925,1)">LSLT</text>
<text x="0" y="0" font-size="8.70" text-anchor="middle" font-weight="normal" fill="#1e1e1e" stroke="#1e1e1e" transform="translate(333.70,225.90) scale(0.925,1)" style="stroke-width:0.04px">Clauss at Hour6</text>
<text x="0" y="0" font-size="10.40" text-anchor="start" font-weight="bold" fill="#000" stroke="#000" transform="translate(266.40,215.50) scale(1,1)" style="stroke-width:0.35px">E</text>
<rect x="288.10" y="265.00" width="13.00" height="7.00" fill="#2A7A58" fill-opacity="0.85" stroke="#0B4029" stroke-opacity="0.3" stroke-width="0.5"/>
<path d="M294.95,256.50 L294.90,256.95 L295.19,257.39 L295.40,257.84 L295.61,258.28 L295.68,258.73 L295.58,259.17 L295.69,259.62 L295.67,260.06 L295.87,260.51 L296.11,260.95 L296.25,261.40 L296.70,261.85 L296.59,262.29 L296.84,262.74 L296.95,263.18 L297.37,263.63 L297.04,264.07 L298.49,264.52 L298.78,264.96 L301.65,265.41 L302.45,265.85 L301.00,266.30 L302.43,266.75 L301.55,267.19 L303.14,267.64 L304.15,268.08 L301.88,268.53 L302.54,268.97 L302.32,269.42 L301.71,269.86 L302.61,270.31 L301.86,270.75 L300.06,271.20 L299.34,271.65 L300.50,272.09 L299.41,272.54 L298.22,272.98 L297.11,273.43 L297.93,273.87 L297.24,274.32 L296.70,274.76 L295.70,275.21 L295.17,275.65 L294.84,276.10 L294.36,276.10 L294.03,275.65 L293.50,275.21 L292.50,274.76 L291.96,274.32 L291.27,273.87 L292.09,273.43 L290.98,272.98 L289.79,272.54 L288.70,272.09 L289.86,271.65 L289.14,271.20 L287.34,270.75 L286.59,270.31 L287.49,269.86 L286.88,269.42 L286.66,268.97 L287.32,268.53 L285.05,268.08 L286.06,267.64 L287.65,267.19 L286.77,266.75 L288.20,266.30 L286.75,265.85 L287.55,265.41 L290.42,264.96 L290.71,264.52 L292.16,264.07 L291.83,263.63 L292.25,263.18 L292.36,262.74 L292.61,262.29 L292.50,261.85 L292.95,261.40 L293.09,260.95 L293.33,260.51 L293.53,260.06 L293.51,259.62 L293.62,259.17 L293.52,258.73 L293.59,258.28 L293.80,257.84 L294.01,257.39 L294.30,256.95 L294.25,256.50 Z" fill="#24704F" fill-opacity="0.88" stroke="none"/>
<line x1="288.10" y1="268.50" x2="301.10" y2="268.50" stroke="#0B4029" stroke-width="0.5" stroke-opacity="0.4"/>
<circle cx="290.33" cy="267.54" r="0.75" fill="#0B4029" fill-opacity="0.9"/>
<circle cx="294.62" cy="271.70" r="0.75" fill="#0B4029" fill-opacity="0.9"/>
<circle cx="294.95" cy="272.20" r="0.75" fill="#0B4029" fill-opacity="0.9"/>
<circle cx="293.23" cy="269.05" r="0.75" fill="#0B4029" fill-opacity="0.9"/>
<circle cx="296.91" cy="270.27" r="0.75" fill="#0B4029" fill-opacity="0.9"/>
<circle cx="292.22" cy="264.31" r="0.75" fill="#0B4029" fill-opacity="0.9"/>
<circle cx="295.70" cy="268.42" r="0.75" fill="#0B4029" fill-opacity="0.9"/>
<circle cx="297.04" cy="270.66" r="0.75" fill="#0B4029" fill-opacity="0.9"/>
<circle cx="295.18" cy="262.57" r="0.75" fill="#0B4029" fill-opacity="0.9"/>
<circle cx="290.36" cy="270.25" r="0.75" fill="#0B4029" fill-opacity="0.9"/>
<circle cx="292.42" cy="265.62" r="0.75" fill="#0B4029" fill-opacity="0.9"/>
<circle cx="298.27" cy="270.96" r="0.75" fill="#0B4029" fill-opacity="0.9"/>
<circle cx="293.69" cy="271.73" r="0.75" fill="#0B4029" fill-opacity="0.9"/>
<circle cx="293.68" cy="267.70" r="0.75" fill="#0B4029" fill-opacity="0.9"/>
<circle cx="295.22" cy="272.23" r="0.75" fill="#0B4029" fill-opacity="0.9"/>
<circle cx="296.28" cy="263.69" r="0.75" fill="#0B4029" fill-opacity="0.9"/>
<circle cx="291.25" cy="264.57" r="0.75" fill="#0B4029" fill-opacity="0.9"/>
<circle cx="289.55" cy="268.14" r="0.75" fill="#0B4029" fill-opacity="0.9"/>
<circle cx="293.63" cy="268.42" r="0.75" fill="#0B4029" fill-opacity="0.9"/>
<circle cx="289.98" cy="267.30" r="0.75" fill="#0B4029" fill-opacity="0.9"/>
<circle cx="295.88" cy="268.71" r="0.75" fill="#0B4029" fill-opacity="0.9"/>
<circle cx="294.83" cy="273.52" r="0.75" fill="#0B4029" fill-opacity="0.9"/>
<circle cx="291.87" cy="268.69" r="0.75" fill="#0B4029" fill-opacity="0.9"/>
<circle cx="294.24" cy="276.05" r="0.75" fill="#0B4029" fill-opacity="0.9"/>
<circle cx="291.89" cy="270.67" r="0.75" fill="#0B4029" fill-opacity="0.9"/>
<circle cx="293.02" cy="268.61" r="0.75" fill="#0B4029" fill-opacity="0.9"/>
<circle cx="297.56" cy="269.94" r="0.75" fill="#0B4029" fill-opacity="0.9"/>
<circle cx="295.65" cy="262.17" r="0.75" fill="#0B4029" fill-opacity="0.9"/>
<circle cx="293.45" cy="268.93" r="0.75" fill="#0B4029" fill-opacity="0.9"/>
<circle cx="293.37" cy="274.82" r="0.75" fill="#0B4029" fill-opacity="0.9"/>
<circle cx="293.97" cy="271.06" r="0.75" fill="#0B4029" fill-opacity="0.9"/>
<circle cx="292.92" cy="265.36" r="0.75" fill="#0B4029" fill-opacity="0.9"/>
<circle cx="293.46" cy="262.39" r="0.75" fill="#0B4029" fill-opacity="0.9"/>
<circle cx="297.26" cy="270.82" r="0.75" fill="#0B4029" fill-opacity="0.9"/>
<circle cx="296.59" cy="271.20" r="0.75" fill="#0B4029" fill-opacity="0.9"/>
<circle cx="293.88" cy="265.60" r="0.75" fill="#0B4029" fill-opacity="0.9"/>
<circle cx="293.65" cy="265.78" r="0.75" fill="#0B4029" fill-opacity="0.9"/>
<circle cx="293.18" cy="267.03" r="0.75" fill="#0B4029" fill-opacity="0.9"/>
<circle cx="298.30" cy="269.60" r="0.75" fill="#0B4029" fill-opacity="0.9"/>
<circle cx="299.34" cy="265.49" r="0.75" fill="#0B4029" fill-opacity="0.9"/>
<circle cx="296.10" cy="257.50" r="0.7" fill="#0B4029" fill-opacity="0.8"/>
<circle cx="292.60" cy="259.50" r="0.7" fill="#0B4029" fill-opacity="0.8"/>
<circle cx="297.00" cy="261.00" r="0.7" fill="#0B4029" fill-opacity="0.8"/>
<circle cx="293.60" cy="262.50" r="0.7" fill="#0B4029" fill-opacity="0.8"/>
<rect x="306.30" y="270.00" width="15.40" height="8.00" fill="#F27DB6" fill-opacity="0.85" stroke="#B8065A" stroke-opacity="0.3" stroke-width="0.5"/>
<path d="M314.29,261.80 L314.61,262.41 L314.96,263.02 L314.95,263.63 L315.54,264.24 L315.33,264.85 L316.28,265.45 L316.93,266.06 L317.33,266.67 L318.24,267.28 L317.42,267.89 L318.31,268.50 L318.77,269.11 L319.70,269.72 L320.66,270.33 L320.10,270.94 L320.46,271.55 L320.96,272.15 L320.01,272.76 L318.73,273.37 L319.45,273.98 L319.12,274.59 L320.13,275.20 L318.63,275.81 L318.40,276.42 L318.04,277.03 L317.71,277.64 L316.86,278.25 L317.21,278.85 L316.93,279.46 L316.19,280.07 L316.04,280.68 L316.03,281.29 L315.76,281.90 L315.41,282.51 L315.41,283.12 L315.23,283.73 L314.98,284.34 L314.81,284.95 L314.66,285.55 L314.68,286.16 L314.42,286.77 L314.33,287.38 L314.28,287.99 L314.17,288.60 L313.83,288.60 L313.72,287.99 L313.67,287.38 L313.58,286.77 L313.32,286.16 L313.34,285.55 L313.19,284.95 L313.02,284.34 L312.77,283.73 L312.59,283.12 L312.59,282.51 L312.24,281.90 L311.97,281.29 L311.96,280.68 L311.81,280.07 L311.07,279.46 L310.79,278.85 L311.14,278.25 L310.29,277.64 L309.96,277.03 L309.60,276.42 L309.37,275.81 L307.87,275.20 L308.88,274.59 L308.55,273.98 L309.27,273.37 L307.99,272.76 L307.04,272.15 L307.54,271.55 L307.90,270.94 L307.34,270.33 L308.30,269.72 L309.23,269.11 L309.69,268.50 L310.58,267.89 L309.76,267.28 L310.67,266.67 L311.07,266.06 L311.72,265.45 L312.67,264.85 L312.46,264.24 L313.05,263.63 L313.04,263.02 L313.39,262.41 L313.71,261.80 Z" fill="#E42E84" fill-opacity="0.8" stroke="none"/>
<line x1="306.30" y1="274.00" x2="321.70" y2="274.00" stroke="#B8065A" stroke-width="0.5" stroke-opacity="0.4"/>
<circle cx="316.96" cy="268.86" r="0.75" fill="#B8065A" fill-opacity="0.9"/>
<circle cx="310.08" cy="274.20" r="0.75" fill="#B8065A" fill-opacity="0.9"/>
<circle cx="314.76" cy="269.02" r="0.75" fill="#B8065A" fill-opacity="0.9"/>
<circle cx="313.48" cy="284.22" r="0.75" fill="#B8065A" fill-opacity="0.9"/>
<circle cx="310.16" cy="273.69" r="0.75" fill="#B8065A" fill-opacity="0.9"/>
<circle cx="309.96" cy="274.14" r="0.75" fill="#B8065A" fill-opacity="0.9"/>
<circle cx="316.43" cy="272.93" r="0.75" fill="#B8065A" fill-opacity="0.9"/>
<circle cx="311.01" cy="271.86" r="0.75" fill="#B8065A" fill-opacity="0.9"/>
<circle cx="316.71" cy="276.64" r="0.75" fill="#B8065A" fill-opacity="0.9"/>
<circle cx="309.82" cy="273.05" r="0.75" fill="#B8065A" fill-opacity="0.9"/>
<circle cx="315.20" cy="273.11" r="0.75" fill="#B8065A" fill-opacity="0.9"/>
<circle cx="312.77" cy="266.90" r="0.75" fill="#B8065A" fill-opacity="0.9"/>
<circle cx="313.92" cy="263.37" r="0.75" fill="#B8065A" fill-opacity="0.9"/>
<circle cx="310.96" cy="273.89" r="0.75" fill="#B8065A" fill-opacity="0.9"/>
<circle cx="314.33" cy="273.12" r="0.75" fill="#B8065A" fill-opacity="0.9"/>
<circle cx="315.04" cy="282.13" r="0.75" fill="#B8065A" fill-opacity="0.9"/>
<circle cx="314.08" cy="280.11" r="0.75" fill="#B8065A" fill-opacity="0.9"/>
<circle cx="309.96" cy="274.31" r="0.75" fill="#B8065A" fill-opacity="0.9"/>
<circle cx="312.33" cy="275.23" r="0.75" fill="#B8065A" fill-opacity="0.9"/>
<circle cx="311.17" cy="276.59" r="0.75" fill="#B8065A" fill-opacity="0.9"/>
<circle cx="313.92" cy="275.77" r="0.75" fill="#B8065A" fill-opacity="0.9"/>
<circle cx="314.86" cy="274.84" r="0.75" fill="#B8065A" fill-opacity="0.9"/>
<rect x="326.90" y="268.50" width="13.00" height="8.50" fill="#C9C3EA" fill-opacity="0.85" stroke="#7468B8" stroke-opacity="0.3" stroke-width="0.5"/>
<path d="M333.70,264.20 L333.87,264.63 L334.18,265.07 L334.58,265.50 L334.89,265.94 L334.96,266.37 L335.39,266.80 L335.47,267.24 L335.77,267.67 L336.56,268.11 L336.98,268.54 L336.68,268.98 L338.32,269.41 L337.39,269.84 L338.34,270.28 L337.57,270.71 L340.38,271.15 L339.88,271.58 L340.24,272.01 L339.68,272.45 L341.37,272.88 L340.97,273.32 L339.68,273.75 L338.53,274.18 L338.94,274.62 L338.12,275.05 L338.29,275.49 L339.38,275.92 L337.95,276.35 L338.19,276.79 L337.74,277.22 L336.53,277.66 L337.68,278.09 L337.06,278.52 L335.82,278.96 L336.17,279.39 L336.08,279.83 L336.09,280.26 L334.84,280.70 L335.15,281.13 L334.56,281.56 L334.22,282.00 L334.11,282.43 L333.90,282.87 L333.72,283.30 L333.08,283.30 L332.90,282.87 L332.69,282.43 L332.58,282.00 L332.24,281.56 L331.65,281.13 L331.96,280.70 L330.71,280.26 L330.72,279.83 L330.63,279.39 L330.98,278.96 L329.74,278.52 L329.12,278.09 L330.27,277.66 L329.06,277.22 L328.61,276.79 L328.85,276.35 L327.42,275.92 L328.51,275.49 L328.68,275.05 L327.86,274.62 L328.27,274.18 L327.12,273.75 L325.83,273.32 L325.43,272.88 L327.12,272.45 L326.56,272.01 L326.92,271.58 L326.42,271.15 L329.23,270.71 L328.46,270.28 L329.41,269.84 L328.48,269.41 L330.12,268.98 L329.82,268.54 L330.24,268.11 L331.03,267.67 L331.33,267.24 L331.41,266.80 L331.84,266.37 L331.91,265.94 L332.22,265.50 L332.62,265.07 L332.93,264.63 L333.10,264.20 Z" fill="#ADA5DD" fill-opacity="0.8" stroke="none"/>
<line x1="326.90" y1="272.75" x2="339.90" y2="272.75" stroke="#7468B8" stroke-width="0.5" stroke-opacity="0.4"/>
<circle cx="330.69" cy="272.32" r="0.75" fill="#7468B8" fill-opacity="0.9"/>
<circle cx="334.19" cy="277.41" r="0.75" fill="#7468B8" fill-opacity="0.9"/>
<circle cx="333.85" cy="278.15" r="0.75" fill="#7468B8" fill-opacity="0.9"/>
<circle cx="332.55" cy="274.76" r="0.75" fill="#7468B8" fill-opacity="0.9"/>
<circle cx="333.80" cy="267.42" r="0.75" fill="#7468B8" fill-opacity="0.9"/>
<circle cx="332.44" cy="269.50" r="0.75" fill="#7468B8" fill-opacity="0.9"/>
<circle cx="328.23" cy="273.34" r="0.75" fill="#7468B8" fill-opacity="0.9"/>
<circle cx="335.33" cy="276.66" r="0.75" fill="#7468B8" fill-opacity="0.9"/>
<circle cx="333.50" cy="265.43" r="0.75" fill="#7468B8" fill-opacity="0.9"/>
<circle cx="334.04" cy="281.95" r="0.75" fill="#7468B8" fill-opacity="0.9"/>
<circle cx="332.07" cy="268.42" r="0.75" fill="#7468B8" fill-opacity="0.9"/>
<circle cx="331.49" cy="276.54" r="0.75" fill="#7468B8" fill-opacity="0.9"/>
<circle cx="335.56" cy="268.24" r="0.75" fill="#7468B8" fill-opacity="0.9"/>
<circle cx="333.98" cy="281.03" r="0.75" fill="#7468B8" fill-opacity="0.9"/>
<circle cx="331.98" cy="273.33" r="0.75" fill="#7468B8" fill-opacity="0.9"/>
<circle cx="331.18" cy="274.41" r="0.75" fill="#7468B8" fill-opacity="0.9"/>
<circle cx="332.77" cy="273.51" r="0.75" fill="#7468B8" fill-opacity="0.9"/>
<circle cx="332.11" cy="279.88" r="0.75" fill="#7468B8" fill-opacity="0.9"/>
<circle cx="331.83" cy="276.87" r="0.75" fill="#7468B8" fill-opacity="0.9"/>
<circle cx="331.96" cy="278.18" r="0.75" fill="#7468B8" fill-opacity="0.9"/>
<rect x="347.30" y="271.00" width="12.00" height="6.00" fill="#F0BE6A" fill-opacity="0.85" stroke="#A86808" stroke-opacity="0.3" stroke-width="0.5"/>
<path d="M353.66,265.90 L353.78,266.29 L354.03,266.67 L354.11,267.06 L354.65,267.45 L355.07,267.83 L355.40,268.22 L355.59,268.60 L355.34,268.99 L356.06,269.38 L356.37,269.76 L356.92,270.15 L357.26,270.54 L358.15,270.92 L356.58,271.31 L358.13,271.70 L359.92,272.08 L359.22,272.47 L361.92,272.85 L362.13,273.24 L362.00,273.63 L361.97,274.01 L362.56,274.40 L362.93,274.79 L361.36,275.17 L359.91,275.56 L358.92,275.95 L358.10,276.33 L357.19,276.72 L357.67,277.10 L357.08,277.49 L357.26,277.88 L356.77,278.26 L356.64,278.65 L356.33,279.04 L355.42,279.42 L355.45,279.81 L355.04,280.20 L355.23,280.58 L354.52,280.97 L354.62,281.35 L354.30,281.74 L353.98,282.13 L353.70,282.51 L353.58,282.90 L353.02,282.90 L352.90,282.51 L352.62,282.13 L352.30,281.74 L351.98,281.35 L352.08,280.97 L351.37,280.58 L351.56,280.20 L351.15,279.81 L351.18,279.42 L350.27,279.04 L349.96,278.65 L349.83,278.26 L349.34,277.88 L349.52,277.49 L348.93,277.10 L349.41,276.72 L348.50,276.33 L347.68,275.95 L346.69,275.56 L345.24,275.17 L343.67,274.79 L344.04,274.40 L344.63,274.01 L344.60,273.63 L344.47,273.24 L344.68,272.85 L347.38,272.47 L346.68,272.08 L348.47,271.70 L350.02,271.31 L348.45,270.92 L349.34,270.54 L349.68,270.15 L350.23,269.76 L350.54,269.38 L351.26,268.99 L351.01,268.60 L351.20,268.22 L351.53,267.83 L351.95,267.45 L352.49,267.06 L352.57,266.67 L352.82,266.29 L352.94,265.90 Z" fill="#E39D22" fill-opacity="0.85" stroke="none"/>
<line x1="347.30" y1="274.00" x2="359.30" y2="274.00" stroke="#A86808" stroke-width="0.5" stroke-opacity="0.4"/>
<circle cx="352.66" cy="268.81" r="0.75" fill="#A86808" fill-opacity="0.9"/>
<circle cx="355.24" cy="277.48" r="0.75" fill="#A86808" fill-opacity="0.9"/>
<circle cx="354.85" cy="278.99" r="0.75" fill="#A86808" fill-opacity="0.9"/>
<circle cx="351.87" cy="279.80" r="0.75" fill="#A86808" fill-opacity="0.9"/>
<circle cx="354.42" cy="272.65" r="0.75" fill="#A86808" fill-opacity="0.9"/>
<circle cx="357.79" cy="273.89" r="0.75" fill="#A86808" fill-opacity="0.9"/>
<circle cx="350.45" cy="273.39" r="0.75" fill="#A86808" fill-opacity="0.9"/>
<circle cx="354.21" cy="274.10" r="0.75" fill="#A86808" fill-opacity="0.9"/>
<circle cx="352.05" cy="273.38" r="0.75" fill="#A86808" fill-opacity="0.9"/>
<circle cx="353.77" cy="272.59" r="0.75" fill="#A86808" fill-opacity="0.9"/>
<circle cx="354.33" cy="271.48" r="0.75" fill="#A86808" fill-opacity="0.9"/>
<circle cx="352.40" cy="270.64" r="0.75" fill="#A86808" fill-opacity="0.9"/>
<circle cx="356.63" cy="273.71" r="0.75" fill="#A86808" fill-opacity="0.9"/>
<circle cx="351.94" cy="278.45" r="0.75" fill="#A86808" fill-opacity="0.9"/>
<circle cx="347.20" cy="274.27" r="0.75" fill="#A86808" fill-opacity="0.9"/>
<circle cx="357.95" cy="274.38" r="0.75" fill="#A86808" fill-opacity="0.9"/>
<circle cx="353.45" cy="273.12" r="0.75" fill="#A86808" fill-opacity="0.9"/>
<circle cx="352.36" cy="269.94" r="0.75" fill="#A86808" fill-opacity="0.9"/>
<circle cx="347.10" cy="274.06" r="0.75" fill="#A86808" fill-opacity="0.9"/>
<circle cx="352.07" cy="279.06" r="0.75" fill="#A86808" fill-opacity="0.9"/>
<rect x="365.30" y="265.90" width="14.60" height="10.50" fill="#B2D6F2" fill-opacity="0.85" stroke="#2A80C2" stroke-opacity="0.3" stroke-width="0.5"/>
<path d="M372.75,241.70 L372.84,242.76 L372.82,243.83 L372.91,244.89 L372.93,245.95 L373.06,247.02 L373.12,248.08 L373.07,249.15 L373.11,250.21 L373.24,251.27 L373.23,252.34 L373.37,253.40 L373.40,254.46 L373.76,255.53 L373.69,256.59 L374.01,257.65 L374.22,258.72 L374.21,259.78 L374.93,260.85 L375.65,261.91 L374.69,262.97 L375.00,264.04 L375.35,265.10 L376.20,266.16 L376.73,267.23 L376.73,268.29 L377.04,269.35 L376.16,270.42 L377.86,271.48 L377.54,272.55 L376.04,273.61 L375.58,274.67 L375.45,275.74 L375.58,276.80 L375.13,277.86 L374.43,278.93 L374.22,279.99 L373.83,281.05 L373.68,282.12 L373.72,283.18 L373.20,284.25 L373.14,285.31 L373.09,286.37 L372.89,287.44 L372.82,288.50 L372.38,288.50 L372.31,287.44 L372.11,286.37 L372.06,285.31 L372.00,284.25 L371.48,283.18 L371.52,282.12 L371.37,281.05 L370.98,279.99 L370.77,278.93 L370.07,277.86 L369.62,276.80 L369.75,275.74 L369.62,274.67 L369.16,273.61 L367.66,272.55 L367.34,271.48 L369.04,270.42 L368.16,269.35 L368.47,268.29 L368.47,267.23 L369.00,266.16 L369.85,265.10 L370.20,264.04 L370.51,262.97 L369.55,261.91 L370.27,260.85 L370.99,259.78 L370.98,258.72 L371.19,257.65 L371.51,256.59 L371.44,255.53 L371.80,254.46 L371.83,253.40 L371.97,252.34 L371.96,251.27 L372.09,250.21 L372.13,249.15 L372.08,248.08 L372.14,247.02 L372.27,245.95 L372.29,244.89 L372.38,243.83 L372.36,242.76 L372.45,241.70 Z" fill="#8CC3EC" fill-opacity="0.8" stroke="none"/>
<line x1="365.30" y1="271.15" x2="379.90" y2="271.15" stroke="#2A80C2" stroke-width="0.5" stroke-opacity="0.4"/>
<circle cx="373.54" cy="259.46" r="0.75" fill="#2A80C2" fill-opacity="0.9"/>
<circle cx="372.54" cy="287.56" r="0.75" fill="#2A80C2" fill-opacity="0.9"/>
<circle cx="371.36" cy="277.87" r="0.75" fill="#2A80C2" fill-opacity="0.9"/>
<circle cx="371.19" cy="272.43" r="0.75" fill="#2A80C2" fill-opacity="0.9"/>
<circle cx="370.88" cy="265.01" r="0.75" fill="#2A80C2" fill-opacity="0.9"/>
<circle cx="373.08" cy="271.78" r="0.75" fill="#2A80C2" fill-opacity="0.9"/>
<circle cx="372.31" cy="245.04" r="0.75" fill="#2A80C2" fill-opacity="0.9"/>
<circle cx="373.75" cy="268.58" r="0.75" fill="#2A80C2" fill-opacity="0.9"/>
<circle cx="371.98" cy="279.13" r="0.75" fill="#2A80C2" fill-opacity="0.9"/>
<circle cx="373.12" cy="259.74" r="0.75" fill="#2A80C2" fill-opacity="0.9"/>
<circle cx="373.62" cy="262.84" r="0.75" fill="#2A80C2" fill-opacity="0.9"/>
<circle cx="372.87" cy="266.24" r="0.75" fill="#2A80C2" fill-opacity="0.9"/>
<circle cx="371.92" cy="279.61" r="0.75" fill="#2A80C2" fill-opacity="0.9"/>
<circle cx="370.62" cy="274.81" r="0.75" fill="#2A80C2" fill-opacity="0.9"/>
<circle cx="372.70" cy="258.49" r="0.75" fill="#2A80C2" fill-opacity="0.9"/>
<circle cx="371.79" cy="278.70" r="0.75" fill="#2A80C2" fill-opacity="0.9"/>
<circle cx="374.73" cy="272.48" r="0.75" fill="#2A80C2" fill-opacity="0.9"/>
<circle cx="372.73" cy="288.85" r="0.75" fill="#2A80C2" fill-opacity="0.9"/>
<circle cx="374.65" cy="269.00" r="0.75" fill="#2A80C2" fill-opacity="0.9"/>
<circle cx="373.44" cy="267.20" r="0.75" fill="#2A80C2" fill-opacity="0.9"/>
<circle cx="373.20" cy="283.23" r="0.75" fill="#2A80C2" fill-opacity="0.9"/>
<circle cx="372.39" cy="282.85" r="0.75" fill="#2A80C2" fill-opacity="0.9"/>
<circle cx="374.19" cy="278.08" r="0.75" fill="#2A80C2" fill-opacity="0.9"/>
<circle cx="374.07" cy="260.87" r="0.75" fill="#2A80C2" fill-opacity="0.9"/>
<circle cx="371.60" cy="252.00" r="0.7" fill="#2A80C2" fill-opacity="0.8"/>
<circle cx="373.10" cy="255.00" r="0.7" fill="#2A80C2" fill-opacity="0.8"/>
<circle cx="370.40" cy="258.00" r="0.7" fill="#2A80C2" fill-opacity="0.8"/>
<circle cx="373.40" cy="262.00" r="0.7" fill="#2A80C2" fill-opacity="0.8"/>
<polyline points="294.40,253.90 294.40,234.90 372.40,234.90 372.40,240.50" fill="none" stroke="#222" stroke-width="0.8"/>
<text x="333.40" y="235.50" font-size="6.0" text-anchor="middle" style="stroke-width:0.15px" fill="#111" stroke="#111">**</text>
<polyline points="294.40,253.90 294.40,240.60 353.20,240.60 353.20,246.40" fill="none" stroke="#222" stroke-width="0.8"/>
<text x="323.80" y="241.20" font-size="6.0" text-anchor="middle" style="stroke-width:0.15px" fill="#111" stroke="#111">****</text>
<polyline points="294.40,253.90 294.40,246.20 333.40,246.20 333.40,252.20" fill="none" stroke="#222" stroke-width="0.8"/>
<text x="313.90" y="246.80" font-size="6.0" text-anchor="middle" style="stroke-width:0.15px" fill="#111" stroke="#111">****</text>
<polyline points="294.40,254.00 294.40,252.20 314.00,252.20 314.00,258.40" fill="none" stroke="#222" stroke-width="0.8"/>
<text x="304.20" y="252.80" font-size="6.0" text-anchor="middle" style="stroke-width:0.15px" fill="#111" stroke="#111">****</text>
<line x1="420.30" y1="230.90" x2="420.30" y2="292.20" stroke="#1a1a1a" stroke-width="1.2" />
<line x1="419.70" y1="291.60" x2="513.00" y2="291.60" stroke="#1a1a1a" stroke-width="1.2" />
<line x1="417.30" y1="245.80" x2="420.30" y2="245.80" stroke="#1a1a1a" stroke-width="0.9" />
<text x="0" y="0" font-size="6.92" text-anchor="end" font-weight="normal" fill="#141414" stroke="#141414" transform="translate(414.40,248.10) scale(0.925,1)" style="stroke-width:0.06px">1e+05</text>
<line x1="417.30" y1="267.50" x2="420.30" y2="267.50" stroke="#1a1a1a" stroke-width="0.9" />
<text x="0" y="0" font-size="6.92" text-anchor="end" font-weight="normal" fill="#141414" stroke="#141414" transform="translate(414.40,269.80) scale(0.925,1)" style="stroke-width:0.06px">5e+04</text>
<line x1="417.30" y1="289.20" x2="420.30" y2="289.20" stroke="#1a1a1a" stroke-width="0.9" />
<text x="0" y="0" font-size="6.92" text-anchor="end" font-weight="normal" fill="#141414" stroke="#141414" transform="translate(414.40,291.50) scale(0.925,1)" style="stroke-width:0.06px">0e+00</text>
<line x1="430.60" y1="291.60" x2="430.60" y2="294.40" stroke="#1a1a1a" stroke-width="0.9" />
<text x="0" y="0" font-size="6.49" text-anchor="end" fill="#141414" stroke="#141414" transform="translate(433.50,302.50) rotate(-45) scale(0.925,1)">HC</text>
<line x1="448.70" y1="291.60" x2="448.70" y2="294.40" stroke="#1a1a1a" stroke-width="0.9" />
<text x="0" y="0" font-size="6.49" text-anchor="end" fill="#141414" stroke="#141414" transform="translate(451.60,302.50) rotate(-45) scale(0.925,1)">HSHT</text>
<line x1="466.70" y1="291.60" x2="466.70" y2="294.40" stroke="#1a1a1a" stroke-width="0.9" />
<text x="0" y="0" font-size="6.49" text-anchor="end" fill="#141414" stroke="#141414" transform="translate(469.60,302.50) rotate(-45) scale(0.925,1)">HSLT</text>
<line x1="485.00" y1="291.60" x2="485.00" y2="294.40" stroke="#1a1a1a" stroke-width="0.9" />
<text x="0" y="0" font-size="6.49" text-anchor="end" fill="#141414" stroke="#141414" transform="translate(487.90,302.50) rotate(-45) scale(0.925,1)">LSHT</text>
<line x1="502.60" y1="291.60" x2="502.60" y2="294.40" stroke="#1a1a1a" stroke-width="0.9" />
<text x="0" y="0" font-size="6.49" text-anchor="end" fill="#141414" stroke="#141414" transform="translate(505.50,302.50) rotate(-45) scale(0.925,1)">LSLT</text>
<text x="0" y="0" font-size="8.70" text-anchor="middle" font-weight="normal" fill="#1e1e1e" stroke="#1e1e1e" transform="translate(466.80,225.90) scale(0.925,1)" style="stroke-width:0.04px">MS at Hour6</text>
<text x="0" y="0" font-size="10.40" text-anchor="start" font-weight="bold" fill="#000" stroke="#000" transform="translate(396.40,215.50) scale(1,1)" style="stroke-width:0.35px">F</text>
<rect x="424.10" y="264.00" width="13.00" height="5.50" fill="#2A7A58" fill-opacity="0.85" stroke="#0B4029" stroke-opacity="0.3" stroke-width="0.5"/>
<path d="M430.91,251.40 L431.00,251.97 L431.01,252.54 L430.98,253.11 L431.13,253.68 L431.01,254.25 L431.06,254.82 L431.21,255.39 L431.13,255.96 L431.35,256.53 L431.42,257.10 L431.33,257.68 L431.39,258.25 L431.57,258.82 L431.55,259.39 L432.04,259.96 L431.96,260.53 L431.82,261.10 L432.18,261.67 L432.39,262.24 L432.84,262.81 L432.76,263.38 L434.05,263.95 L435.09,264.52 L436.30,265.09 L435.81,265.66 L436.51,266.23 L439.93,266.80 L438.79,267.37 L437.12,267.94 L437.82,268.51 L437.77,269.08 L435.06,269.65 L433.70,270.23 L433.24,270.80 L433.01,271.37 L432.59,271.94 L431.78,272.51 L432.02,273.08 L431.53,273.65 L431.63,274.22 L431.46,274.79 L431.10,275.36 L430.95,275.93 L430.86,276.50 L430.34,276.50 L430.25,275.93 L430.10,275.36 L429.74,274.79 L429.57,274.22 L429.67,273.65 L429.18,273.08 L429.42,272.51 L428.61,271.94 L428.19,271.37 L427.96,270.80 L427.50,270.23 L426.14,269.65 L423.43,269.08 L423.38,268.51 L424.08,267.94 L422.41,267.37 L421.27,266.80 L424.69,266.23 L425.39,265.66 L424.90,265.09 L426.11,264.52 L427.15,263.95 L428.44,263.38 L428.36,262.81 L428.81,262.24 L429.02,261.67 L429.38,261.10 L429.24,260.53 L429.16,259.96 L429.65,259.39 L429.63,258.82 L429.81,258.25 L429.87,257.68 L429.78,257.10 L429.85,256.53 L430.07,255.96 L429.99,255.39 L430.14,254.82 L430.19,254.25 L430.07,253.68 L430.22,253.11 L430.19,252.54 L430.20,251.97 L430.29,251.40 Z" fill="#24704F" fill-opacity="0.88" stroke="none"/>
<line x1="424.10" y1="266.75" x2="437.10" y2="266.75" stroke="#0B4029" stroke-width="0.5" stroke-opacity="0.4"/>
<circle cx="435.53" cy="266.28" r="0.75" fill="#0B4029" fill-opacity="0.9"/>
<circle cx="431.61" cy="266.24" r="0.75" fill="#0B4029" fill-opacity="0.9"/>
<circle cx="431.13" cy="263.39" r="0.75" fill="#0B4029" fill-opacity="0.9"/>
<circle cx="428.83" cy="268.76" r="0.75" fill="#0B4029" fill-opacity="0.9"/>
<circle cx="430.95" cy="260.20" r="0.75" fill="#0B4029" fill-opacity="0.9"/>
<circle cx="431.06" cy="256.92" r="0.75" fill="#0B4029" fill-opacity="0.9"/>
<circle cx="426.88" cy="268.04" r="0.75" fill="#0B4029" fill-opacity="0.9"/>
<circle cx="430.30" cy="253.70" r="0.75" fill="#0B4029" fill-opacity="0.9"/>
<circle cx="428.68" cy="263.17" r="0.75" fill="#0B4029" fill-opacity="0.9"/>
<circle cx="434.58" cy="266.18" r="0.75" fill="#0B4029" fill-opacity="0.9"/>
<circle cx="430.60" cy="266.91" r="0.75" fill="#0B4029" fill-opacity="0.9"/>
<circle cx="428.19" cy="267.91" r="0.75" fill="#0B4029" fill-opacity="0.9"/>
<circle cx="430.80" cy="276.90" r="0.75" fill="#0B4029" fill-opacity="0.9"/>
<circle cx="427.89" cy="268.37" r="0.75" fill="#0B4029" fill-opacity="0.9"/>
<circle cx="432.80" cy="264.18" r="0.75" fill="#0B4029" fill-opacity="0.9"/>
<circle cx="429.42" cy="265.94" r="0.75" fill="#0B4029" fill-opacity="0.9"/>
<circle cx="429.71" cy="273.36" r="0.75" fill="#0B4029" fill-opacity="0.9"/>
<circle cx="430.41" cy="264.28" r="0.75" fill="#0B4029" fill-opacity="0.9"/>
<circle cx="430.01" cy="274.14" r="0.75" fill="#0B4029" fill-opacity="0.9"/>
<circle cx="427.88" cy="267.60" r="0.75" fill="#0B4029" fill-opacity="0.9"/>
<circle cx="431.43" cy="259.82" r="0.75" fill="#0B4029" fill-opacity="0.9"/>
<circle cx="428.31" cy="268.78" r="0.75" fill="#0B4029" fill-opacity="0.9"/>
<circle cx="431.18" cy="260.18" r="0.75" fill="#0B4029" fill-opacity="0.9"/>
<circle cx="430.39" cy="263.43" r="0.75" fill="#0B4029" fill-opacity="0.9"/>
<circle cx="429.09" cy="263.57" r="0.75" fill="#0B4029" fill-opacity="0.9"/>
<circle cx="429.74" cy="267.64" r="0.75" fill="#0B4029" fill-opacity="0.9"/>
<circle cx="433.66" cy="263.77" r="0.75" fill="#0B4029" fill-opacity="0.9"/>
<circle cx="434.07" cy="268.93" r="0.75" fill="#0B4029" fill-opacity="0.9"/>
<circle cx="432.90" cy="263.87" r="0.75" fill="#0B4029" fill-opacity="0.9"/>
<circle cx="435.91" cy="267.62" r="0.75" fill="#0B4029" fill-opacity="0.9"/>
<circle cx="432.37" cy="263.76" r="0.75" fill="#0B4029" fill-opacity="0.9"/>
<circle cx="426.70" cy="264.93" r="0.75" fill="#0B4029" fill-opacity="0.9"/>
<circle cx="430.14" cy="260.02" r="0.75" fill="#0B4029" fill-opacity="0.9"/>
<circle cx="430.05" cy="267.27" r="0.75" fill="#0B4029" fill-opacity="0.9"/>
<circle cx="430.73" cy="273.06" r="0.75" fill="#0B4029" fill-opacity="0.9"/>
<circle cx="429.06" cy="269.97" r="0.75" fill="#0B4029" fill-opacity="0.9"/>
<circle cx="429.81" cy="271.62" r="0.75" fill="#0B4029" fill-opacity="0.9"/>
<circle cx="432.40" cy="263.57" r="0.75" fill="#0B4029" fill-opacity="0.9"/>
<circle cx="432.16" cy="263.74" r="0.75" fill="#0B4029" fill-opacity="0.9"/>
<circle cx="425.93" cy="267.31" r="0.75" fill="#0B4029" fill-opacity="0.9"/>
<circle cx="431.40" cy="254.00" r="0.7" fill="#0B4029" fill-opacity="0.8"/>
<circle cx="429.00" cy="257.00" r="0.7" fill="#0B4029" fill-opacity="0.8"/>
<circle cx="432.40" cy="259.50" r="0.7" fill="#0B4029" fill-opacity="0.8"/>
<circle cx="428.10" cy="273.50" r="0.7" fill="#0B4029" fill-opacity="0.8"/>
<circle cx="432.60" cy="275.00" r="0.7" fill="#0B4029" fill-opacity="0.8"/>
<rect x="441.60" y="261.90" width="14.20" height="8.10" fill="#F27DB6" fill-opacity="0.85" stroke="#B8065A" stroke-opacity="0.3" stroke-width="0.5"/>
<path d="M448.86,248.90 L448.90,249.58 L449.10,250.26 L449.10,250.95 L449.24,251.63 L449.12,252.31 L449.17,252.99 L449.25,253.67 L449.35,254.35 L449.74,255.04 L449.74,255.72 L450.19,256.40 L449.89,257.08 L450.10,257.76 L450.93,258.45 L451.09,259.13 L450.92,259.81 L451.89,260.49 L451.76,261.17 L452.20,261.85 L453.18,262.54 L452.12,263.22 L454.08,263.90 L453.15,264.58 L453.55,265.26 L453.53,265.95 L453.65,266.63 L453.72,267.31 L453.15,267.99 L453.69,268.67 L452.54,269.35 L452.34,270.04 L451.15,270.72 L451.66,271.40 L450.73,272.08 L450.94,272.76 L449.98,273.45 L449.86,274.13 L449.99,274.81 L449.61,275.49 L449.66,276.17 L449.20,276.85 L449.04,277.54 L449.03,278.22 L448.94,278.90 L448.46,278.90 L448.37,278.22 L448.36,277.54 L448.20,276.85 L447.74,276.17 L447.79,275.49 L447.41,274.81 L447.54,274.13 L447.42,273.45 L446.46,272.76 L446.67,272.08 L445.74,271.40 L446.25,270.72 L445.06,270.04 L444.86,269.35 L443.71,268.67 L444.25,267.99 L443.68,267.31 L443.75,266.63 L443.87,265.95 L443.85,265.26 L444.25,264.58 L443.32,263.90 L445.28,263.22 L444.22,262.54 L445.20,261.85 L445.64,261.17 L445.51,260.49 L446.48,259.81 L446.31,259.13 L446.47,258.45 L447.30,257.76 L447.51,257.08 L447.21,256.40 L447.66,255.72 L447.66,255.04 L448.05,254.35 L448.15,253.67 L448.23,252.99 L448.28,252.31 L448.16,251.63 L448.30,250.95 L448.30,250.26 L448.50,249.58 L448.54,248.90 Z" fill="#E42E84" fill-opacity="0.8" stroke="none"/>
<line x1="441.60" y1="265.95" x2="455.80" y2="265.95" stroke="#B8065A" stroke-width="0.5" stroke-opacity="0.4"/>
<circle cx="448.38" cy="254.72" r="0.75" fill="#B8065A" fill-opacity="0.9"/>
<circle cx="451.09" cy="267.80" r="0.75" fill="#B8065A" fill-opacity="0.9"/>
<circle cx="446.04" cy="266.46" r="0.75" fill="#B8065A" fill-opacity="0.9"/>
<circle cx="446.93" cy="268.33" r="0.75" fill="#B8065A" fill-opacity="0.9"/>
<circle cx="449.64" cy="266.91" r="0.75" fill="#B8065A" fill-opacity="0.9"/>
<circle cx="446.95" cy="262.87" r="0.75" fill="#B8065A" fill-opacity="0.9"/>
<circle cx="448.66" cy="251.44" r="0.75" fill="#B8065A" fill-opacity="0.9"/>
<circle cx="448.48" cy="255.46" r="0.75" fill="#B8065A" fill-opacity="0.9"/>
<circle cx="447.57" cy="266.33" r="0.75" fill="#B8065A" fill-opacity="0.9"/>
<circle cx="449.24" cy="272.47" r="0.75" fill="#B8065A" fill-opacity="0.9"/>
<circle cx="446.05" cy="268.06" r="0.75" fill="#B8065A" fill-opacity="0.9"/>
<circle cx="449.12" cy="253.29" r="0.75" fill="#B8065A" fill-opacity="0.9"/>
<circle cx="445.17" cy="268.36" r="0.75" fill="#B8065A" fill-opacity="0.9"/>
<circle cx="450.56" cy="267.29" r="0.75" fill="#B8065A" fill-opacity="0.9"/>
<circle cx="445.82" cy="263.62" r="0.75" fill="#B8065A" fill-opacity="0.9"/>
<circle cx="451.91" cy="266.14" r="0.75" fill="#B8065A" fill-opacity="0.9"/>
<circle cx="450.62" cy="268.84" r="0.75" fill="#B8065A" fill-opacity="0.9"/>
<circle cx="449.20" cy="272.65" r="0.75" fill="#B8065A" fill-opacity="0.9"/>
<circle cx="448.42" cy="272.38" r="0.75" fill="#B8065A" fill-opacity="0.9"/>
<circle cx="449.12" cy="269.65" r="0.75" fill="#B8065A" fill-opacity="0.9"/>
<circle cx="449.37" cy="267.21" r="0.75" fill="#B8065A" fill-opacity="0.9"/>
<circle cx="449.82" cy="266.97" r="0.75" fill="#B8065A" fill-opacity="0.9"/>
<rect x="460.20" y="262.50" width="13.00" height="8.00" fill="#C9C3EA" fill-opacity="0.85" stroke="#7468B8" stroke-opacity="0.3" stroke-width="0.5"/>
<path d="M466.99,256.20 L467.22,256.66 L467.49,257.12 L467.52,257.58 L467.92,258.05 L468.33,258.51 L468.87,258.97 L468.44,259.43 L468.43,259.89 L469.46,260.35 L470.11,260.81 L469.92,261.27 L469.87,261.74 L471.72,262.20 L470.47,262.66 L471.94,263.12 L472.57,263.58 L471.46,264.04 L471.86,264.50 L472.46,264.97 L471.82,265.43 L473.82,265.89 L474.88,266.35 L472.25,266.81 L472.06,267.27 L471.83,267.73 L471.89,268.20 L471.02,268.66 L470.93,269.12 L470.51,269.58 L472.53,270.04 L471.89,270.50 L469.75,270.96 L471.03,271.43 L469.85,271.89 L468.72,272.35 L468.92,272.81 L469.28,273.27 L468.33,273.73 L468.45,274.19 L467.72,274.65 L467.68,275.12 L467.24,275.58 L467.18,276.04 L466.94,276.50 L466.46,276.50 L466.22,276.04 L466.16,275.58 L465.72,275.12 L465.68,274.65 L464.95,274.19 L465.07,273.73 L464.12,273.27 L464.48,272.81 L464.68,272.35 L463.55,271.89 L462.37,271.43 L463.65,270.96 L461.51,270.50 L460.87,270.04 L462.89,269.58 L462.47,269.12 L462.38,268.66 L461.51,268.20 L461.57,267.73 L461.34,267.27 L461.15,266.81 L458.52,266.35 L459.58,265.89 L461.58,265.43 L460.94,264.97 L461.54,264.50 L461.94,264.04 L460.83,263.58 L461.46,263.12 L462.93,262.66 L461.68,262.20 L463.53,261.74 L463.48,261.27 L463.29,260.81 L463.94,260.35 L464.97,259.89 L464.96,259.43 L464.53,258.97 L465.07,258.51 L465.48,258.05 L465.88,257.58 L465.91,257.12 L466.18,256.66 L466.41,256.20 Z" fill="#ADA5DD" fill-opacity="0.8" stroke="none"/>
<line x1="460.20" y1="266.50" x2="473.20" y2="266.50" stroke="#7468B8" stroke-width="0.5" stroke-opacity="0.4"/>
<circle cx="466.94" cy="275.88" r="0.75" fill="#7468B8" fill-opacity="0.9"/>
<circle cx="467.45" cy="265.62" r="0.75" fill="#7468B8" fill-opacity="0.9"/>
<circle cx="462.63" cy="266.16" r="0.75" fill="#7468B8" fill-opacity="0.9"/>
<circle cx="467.46" cy="269.20" r="0.75" fill="#7468B8" fill-opacity="0.9"/>
<circle cx="468.72" cy="266.13" r="0.75" fill="#7468B8" fill-opacity="0.9"/>
<circle cx="470.99" cy="266.44" r="0.75" fill="#7468B8" fill-opacity="0.9"/>
<circle cx="465.28" cy="263.19" r="0.75" fill="#7468B8" fill-opacity="0.9"/>
<circle cx="463.88" cy="268.42" r="0.75" fill="#7468B8" fill-opacity="0.9"/>
<circle cx="466.43" cy="272.01" r="0.75" fill="#7468B8" fill-opacity="0.9"/>
<circle cx="467.47" cy="271.75" r="0.75" fill="#7468B8" fill-opacity="0.9"/>
<circle cx="468.70" cy="262.60" r="0.75" fill="#7468B8" fill-opacity="0.9"/>
<circle cx="466.24" cy="272.65" r="0.75" fill="#7468B8" fill-opacity="0.9"/>
<circle cx="463.00" cy="267.13" r="0.75" fill="#7468B8" fill-opacity="0.9"/>
<circle cx="470.26" cy="266.62" r="0.75" fill="#7468B8" fill-opacity="0.9"/>
<circle cx="464.92" cy="269.48" r="0.75" fill="#7468B8" fill-opacity="0.9"/>
<circle cx="465.32" cy="262.16" r="0.75" fill="#7468B8" fill-opacity="0.9"/>
<circle cx="467.56" cy="263.05" r="0.75" fill="#7468B8" fill-opacity="0.9"/>
<circle cx="470.16" cy="266.20" r="0.75" fill="#7468B8" fill-opacity="0.9"/>
<circle cx="465.86" cy="274.62" r="0.75" fill="#7468B8" fill-opacity="0.9"/>
<circle cx="465.60" cy="258.81" r="0.75" fill="#7468B8" fill-opacity="0.9"/>
<rect x="479.00" y="263.50" width="12.00" height="5.50" fill="#F0BE6A" fill-opacity="0.85" stroke="#A86808" stroke-opacity="0.3" stroke-width="0.5"/>
<path d="M485.25,256.30 L485.42,256.66 L485.55,257.03 L485.43,257.39 L485.83,257.75 L485.94,258.12 L486.10,258.48 L485.89,258.85 L486.12,259.21 L485.98,259.57 L486.06,259.94 L486.45,260.30 L486.88,260.66 L486.60,261.03 L486.85,261.39 L487.44,261.75 L487.81,262.12 L487.79,262.48 L488.63,262.85 L488.38,263.21 L489.00,263.57 L490.39,263.94 L491.21,264.30 L491.44,264.66 L490.63,265.03 L491.12,265.39 L492.05,265.75 L490.76,266.12 L494.91,266.48 L493.40,266.85 L490.61,267.21 L490.57,267.57 L492.03,267.94 L491.02,268.30 L491.16,268.66 L489.95,269.03 L489.95,269.39 L488.63,269.75 L488.35,270.12 L486.97,270.48 L486.98,270.85 L486.52,271.21 L486.06,271.57 L485.74,271.94 L485.33,272.30 L484.67,272.30 L484.26,271.94 L483.94,271.57 L483.48,271.21 L483.02,270.85 L483.03,270.48 L481.65,270.12 L481.37,269.75 L480.05,269.39 L480.05,269.03 L478.84,268.66 L478.98,268.30 L477.97,267.94 L479.43,267.57 L479.39,267.21 L476.60,266.85 L475.09,266.48 L479.24,266.12 L477.95,265.75 L478.88,265.39 L479.37,265.03 L478.56,264.66 L478.79,264.30 L479.61,263.94 L481.00,263.57 L481.62,263.21 L481.37,262.85 L482.21,262.48 L482.19,262.12 L482.56,261.75 L483.15,261.39 L483.40,261.03 L483.12,260.66 L483.55,260.30 L483.94,259.94 L484.02,259.57 L483.88,259.21 L484.11,258.85 L483.90,258.48 L484.06,258.12 L484.17,257.75 L484.57,257.39 L484.45,257.03 L484.58,256.66 L484.75,256.30 Z" fill="#E39D22" fill-opacity="0.85" stroke="none"/>
<line x1="479.00" y1="266.25" x2="491.00" y2="266.25" stroke="#A86808" stroke-width="0.5" stroke-opacity="0.4"/>
<circle cx="483.04" cy="267.63" r="0.75" fill="#A86808" fill-opacity="0.9"/>
<circle cx="481.76" cy="267.92" r="0.75" fill="#A86808" fill-opacity="0.9"/>
<circle cx="488.53" cy="265.37" r="0.75" fill="#A86808" fill-opacity="0.9"/>
<circle cx="481.66" cy="263.65" r="0.75" fill="#A86808" fill-opacity="0.9"/>
<circle cx="486.43" cy="267.17" r="0.75" fill="#A86808" fill-opacity="0.9"/>
<circle cx="490.04" cy="267.45" r="0.75" fill="#A86808" fill-opacity="0.9"/>
<circle cx="484.74" cy="267.33" r="0.75" fill="#A86808" fill-opacity="0.9"/>
<circle cx="484.84" cy="262.82" r="0.75" fill="#A86808" fill-opacity="0.9"/>
<circle cx="482.66" cy="267.32" r="0.75" fill="#A86808" fill-opacity="0.9"/>
<circle cx="485.19" cy="265.19" r="0.75" fill="#A86808" fill-opacity="0.9"/>
<circle cx="483.76" cy="267.05" r="0.75" fill="#A86808" fill-opacity="0.9"/>
<circle cx="481.33" cy="268.62" r="0.75" fill="#A86808" fill-opacity="0.9"/>
<circle cx="483.32" cy="270.30" r="0.75" fill="#A86808" fill-opacity="0.9"/>
<circle cx="489.39" cy="265.85" r="0.75" fill="#A86808" fill-opacity="0.9"/>
<circle cx="488.74" cy="265.45" r="0.75" fill="#A86808" fill-opacity="0.9"/>
<circle cx="484.70" cy="269.02" r="0.75" fill="#A86808" fill-opacity="0.9"/>
<circle cx="487.44" cy="266.97" r="0.75" fill="#A86808" fill-opacity="0.9"/>
<circle cx="486.82" cy="268.78" r="0.75" fill="#A86808" fill-opacity="0.9"/>
<circle cx="488.15" cy="263.89" r="0.75" fill="#A86808" fill-opacity="0.9"/>
<circle cx="485.74" cy="271.24" r="0.75" fill="#A86808" fill-opacity="0.9"/>
<rect x="495.20" y="261.30" width="14.80" height="8.40" fill="#B2D6F2" fill-opacity="0.85" stroke="#2A80C2" stroke-opacity="0.3" stroke-width="0.5"/>
<path d="M502.81,248.30 L502.81,249.11 L503.00,249.92 L502.99,250.73 L503.36,251.54 L503.22,252.35 L503.24,253.15 L503.74,253.96 L503.76,254.77 L504.43,255.58 L504.73,256.39 L504.54,257.20 L504.44,258.01 L505.51,258.82 L505.61,259.63 L505.39,260.44 L505.45,261.25 L506.33,262.05 L506.68,262.86 L507.24,263.67 L506.27,264.48 L506.86,265.29 L506.87,266.10 L508.44,266.91 L506.16,267.72 L506.30,268.53 L506.83,269.34 L505.73,270.15 L505.84,270.95 L504.67,271.76 L505.00,272.57 L504.28,273.38 L503.97,274.19 L504.19,275.00 L503.91,275.81 L503.61,276.62 L503.54,277.43 L503.71,278.24 L503.23,279.05 L503.40,279.85 L503.15,280.66 L502.98,281.47 L502.88,282.28 L502.87,283.09 L502.77,283.90 L502.43,283.90 L502.33,283.09 L502.32,282.28 L502.22,281.47 L502.05,280.66 L501.80,279.85 L501.97,279.05 L501.49,278.24 L501.66,277.43 L501.59,276.62 L501.29,275.81 L501.01,275.00 L501.23,274.19 L500.92,273.38 L500.20,272.57 L500.53,271.76 L499.36,270.95 L499.47,270.15 L498.37,269.34 L498.90,268.53 L499.04,267.72 L496.76,266.91 L498.33,266.10 L498.34,265.29 L498.93,264.48 L497.96,263.67 L498.52,262.86 L498.87,262.05 L499.75,261.25 L499.81,260.44 L499.59,259.63 L499.69,258.82 L500.76,258.01 L500.66,257.20 L500.47,256.39 L500.77,255.58 L501.44,254.77 L501.46,253.96 L501.96,253.15 L501.98,252.35 L501.84,251.54 L502.21,250.73 L502.20,249.92 L502.39,249.11 L502.39,248.30 Z" fill="#8CC3EC" fill-opacity="0.8" stroke="none"/>
<line x1="495.20" y1="265.50" x2="510.00" y2="265.50" stroke="#2A80C2" stroke-width="0.5" stroke-opacity="0.4"/>
<circle cx="504.82" cy="263.19" r="0.75" fill="#2A80C2" fill-opacity="0.9"/>
<circle cx="502.23" cy="262.53" r="0.75" fill="#2A80C2" fill-opacity="0.9"/>
<circle cx="502.51" cy="266.31" r="0.75" fill="#2A80C2" fill-opacity="0.9"/>
<circle cx="502.11" cy="252.59" r="0.75" fill="#2A80C2" fill-opacity="0.9"/>
<circle cx="501.86" cy="270.69" r="0.75" fill="#2A80C2" fill-opacity="0.9"/>
<circle cx="501.03" cy="270.67" r="0.75" fill="#2A80C2" fill-opacity="0.9"/>
<circle cx="505.14" cy="266.28" r="0.75" fill="#2A80C2" fill-opacity="0.9"/>
<circle cx="502.56" cy="268.88" r="0.75" fill="#2A80C2" fill-opacity="0.9"/>
<circle cx="502.15" cy="277.10" r="0.75" fill="#2A80C2" fill-opacity="0.9"/>
<circle cx="504.31" cy="265.93" r="0.75" fill="#2A80C2" fill-opacity="0.9"/>
<circle cx="504.79" cy="267.74" r="0.75" fill="#2A80C2" fill-opacity="0.9"/>
<circle cx="501.71" cy="265.95" r="0.75" fill="#2A80C2" fill-opacity="0.9"/>
<circle cx="501.56" cy="272.89" r="0.75" fill="#2A80C2" fill-opacity="0.9"/>
<circle cx="502.69" cy="272.95" r="0.75" fill="#2A80C2" fill-opacity="0.9"/>
<circle cx="502.85" cy="266.67" r="0.75" fill="#2A80C2" fill-opacity="0.9"/>
<circle cx="499.15" cy="265.38" r="0.75" fill="#2A80C2" fill-opacity="0.9"/>
<circle cx="502.47" cy="279.06" r="0.75" fill="#2A80C2" fill-opacity="0.9"/>
<circle cx="502.56" cy="271.00" r="0.75" fill="#2A80C2" fill-opacity="0.9"/>
<circle cx="502.82" cy="268.18" r="0.75" fill="#2A80C2" fill-opacity="0.9"/>
<circle cx="505.55" cy="264.85" r="0.75" fill="#2A80C2" fill-opacity="0.9"/>
<circle cx="500.50" cy="261.22" r="0.75" fill="#2A80C2" fill-opacity="0.9"/>
<circle cx="505.39" cy="264.73" r="0.75" fill="#2A80C2" fill-opacity="0.9"/>
<circle cx="500.35" cy="265.14" r="0.75" fill="#2A80C2" fill-opacity="0.9"/>
<circle cx="500.23" cy="268.06" r="0.75" fill="#2A80C2" fill-opacity="0.9"/>
</g>
<rect x="0.5" y="0.5" width="519" height="320" fill="none" stroke="#5a5a5a" stroke-width="1.2"/>
</svg>
</body></html>
